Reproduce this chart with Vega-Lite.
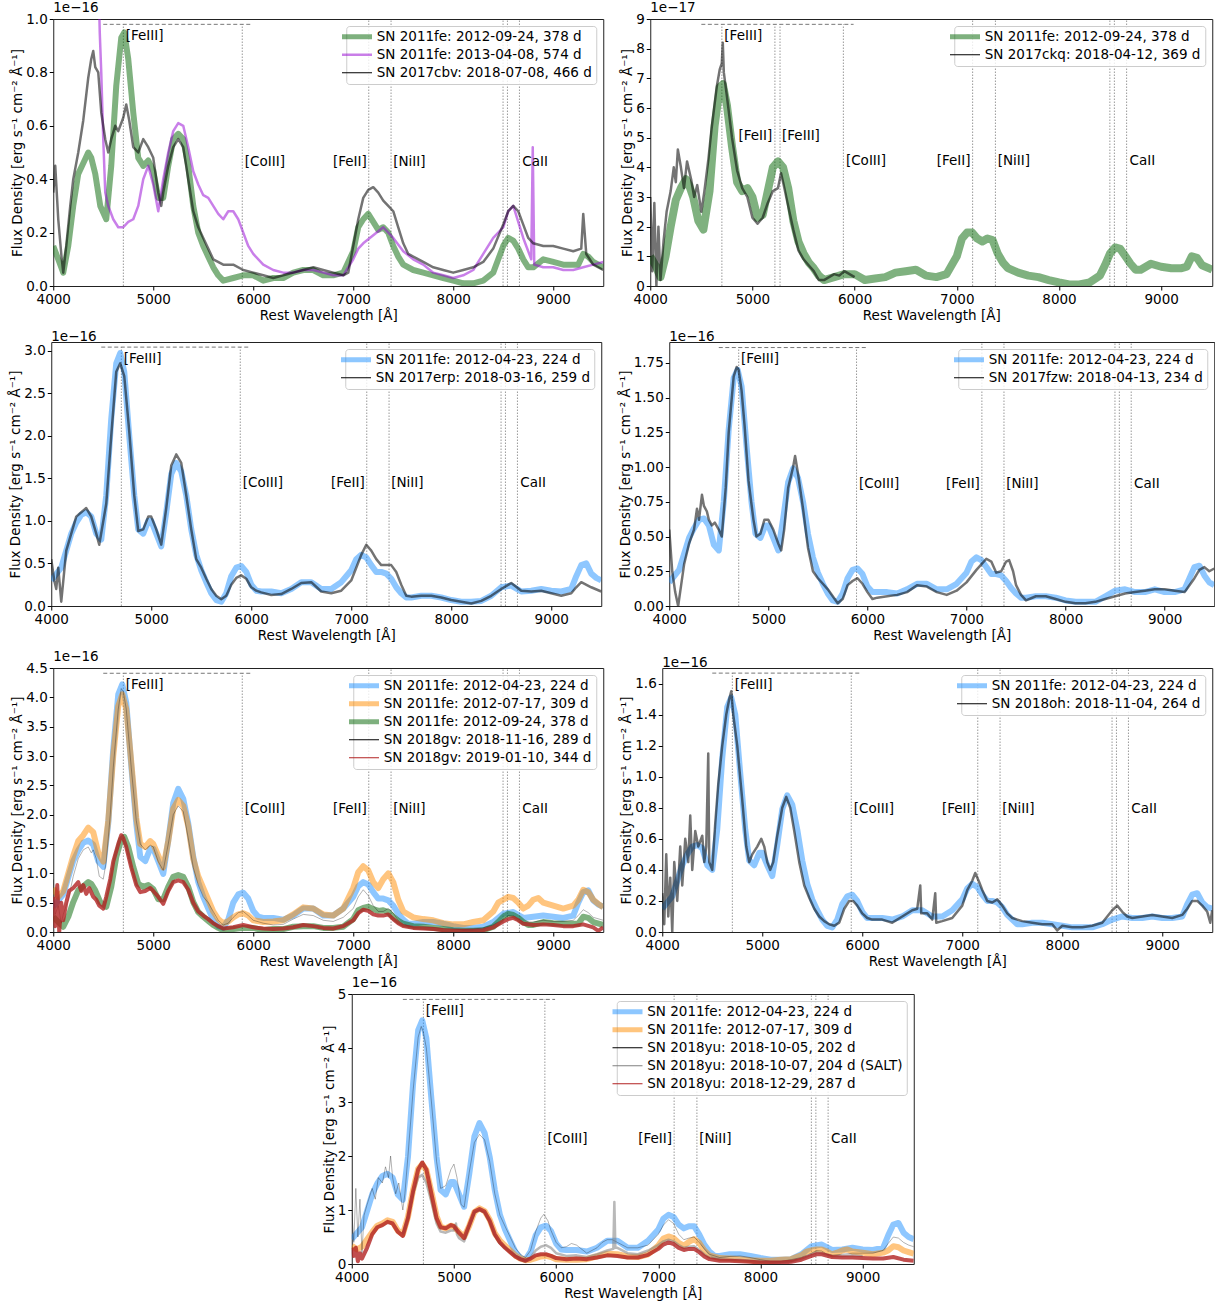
{
"$schema":"https://vega.github.io/schema/vega-lite/v6.json",
"background":"white",
"padding":{"left":8,"top":0,"right":0,"bottom":0},
"spacing":6,
"center":true,
"resolve":{"scale":{"color":"independent","strokeWidth":"independent","opacity":"independent"},"legend":{"color":"independent","strokeWidth":"independent","opacity":"independent"}},
"datasets":{
"names":[{"s":"B","n":"SN 2011fe: 2012-04-23, 224 d"},{"s":"O","n":"SN 2011fe: 2012-07-17, 309 d"},{"s":"G","n":"SN 2011fe: 2012-09-24, 378 d"},{"s":"V","n":"SN 2011fe: 2013-04-08, 574 d"},{"s":"cbv","n":"SN 2017cbv: 2018-07-08, 466 d"},{"s":"ckq","n":"SN 2017ckq: 2018-04-12, 369 d"},{"s":"erp","n":"SN 2017erp: 2018-03-16, 259 d"},{"s":"fzw","n":"SN 2017fzw: 2018-04-13, 234 d"},{"s":"gv1","n":"SN 2018gv: 2018-11-16, 289 d"},{"s":"gv2","n":"SN 2018gv: 2019-01-10, 344 d"},{"s":"oh","n":"SN 2018oh: 2018-11-04, 264 d"},{"s":"yu1","n":"SN 2018yu: 2018-10-05, 202 d"},{"s":"yu2","n":"SN 2018yu: 2018-10-07, 204 d (SALT)"},{"s":"yu3","n":"SN 2018yu: 2018-12-29, 287 d"}],
"p1":[
{"s":"G","w":4000,"f":0.15},{"s":"G","w":4050,"f":0.10},{"s":"G","w":4100,"f":0.05},{"s":"G","w":4150,"f":0.15},{"s":"G","w":4200,"f":0.30},{"s":"G","w":4250,"f":0.42},{"s":"G","w":4300,"f":0.46},{"s":"G","w":4350,"f":0.50},{"s":"G","w":4380,"f":0.48},{"s":"G","w":4420,"f":0.42},{"s":"G","w":4470,"f":0.30},{"s":"G","w":4530,"f":0.25},{"s":"G","w":4580,"f":0.45},{"s":"G","w":4630,"f":0.75},{"s":"G","w":4680,"f":0.93},{"s":"G","w":4710,"f":0.95},{"s":"G","w":4750,"f":0.85},{"s":"G","w":4800,"f":0.65},{"s":"G","w":4850,"f":0.48},{"s":"G","w":4900,"f":0.45},{"s":"G","w":4950,"f":0.47},{"s":"G","w":5000,"f":0.43},{"s":"G","w":5050,"f":0.33},{"s":"G","w":5100,"f":0.33},{"s":"G","w":5150,"f":0.45},{"s":"G","w":5200,"f":0.55},{"s":"G","w":5250,"f":0.57},{"s":"G","w":5300,"f":0.55},{"s":"G","w":5350,"f":0.45},{"s":"G","w":5400,"f":0.30},{"s":"G","w":5450,"f":0.20},{"s":"G","w":5500,"f":0.15},{"s":"G","w":5550,"f":0.11},{"s":"G","w":5600,"f":0.07},{"s":"G","w":5650,"f":0.04},{"s":"G","w":5700,"f":0.02},{"s":"G","w":5800,"f":0.03},{"s":"G","w":5900,"f":0.04},{"s":"G","w":6000,"f":0.04},{"s":"G","w":6100,"f":0.02},{"s":"G","w":6200,"f":0.03},{"s":"G","w":6300,"f":0.03},{"s":"G","w":6400,"f":0.05},{"s":"G","w":6500,"f":0.06},{"s":"G","w":6600,"f":0.06},{"s":"G","w":6700,"f":0.04},{"s":"G","w":6800,"f":0.04},{"s":"G","w":6900,"f":0.05},{"s":"G","w":7000,"f":0.13},{"s":"G","w":7050,"f":0.22},{"s":"G","w":7100,"f":0.25},{"s":"G","w":7150,"f":0.27},{"s":"G","w":7200,"f":0.24},{"s":"G","w":7250,"f":0.21},{"s":"G","w":7300,"f":0.22},{"s":"G","w":7350,"f":0.20},{"s":"G","w":7400,"f":0.15},{"s":"G","w":7450,"f":0.11},{"s":"G","w":7500,"f":0.08},{"s":"G","w":7600,"f":0.06},{"s":"G","w":7700,"f":0.05},{"s":"G","w":7800,"f":0.04},{"s":"G","w":7900,"f":0.03},{"s":"G","w":8000,"f":0.02},{"s":"G","w":8100,"f":0.01},{"s":"G","w":8200,"f":0.01},{"s":"G","w":8300,"f":0.02},{"s":"G","w":8400,"f":0.05},{"s":"G","w":8450,"f":0.10},{"s":"G","w":8500,"f":0.15},{"s":"G","w":8550,"f":0.18},{"s":"G","w":8600,"f":0.17},{"s":"G","w":8650,"f":0.14},{"s":"G","w":8700,"f":0.10},{"s":"G","w":8750,"f":0.07},{"s":"G","w":8800,"f":0.07},{"s":"G","w":8900,"f":0.10},{"s":"G","w":9000,"f":0.09},{"s":"G","w":9100,"f":0.08},{"s":"G","w":9200,"f":0.08},{"s":"G","w":9250,"f":0.08},{"s":"G","w":9300,"f":0.12},{"s":"G","w":9350,"f":0.11},{"s":"G","w":9400,"f":0.09},{"s":"G","w":9500,"f":0.07},
{"s":"V","w":4450,"f":1.2},{"s":"V","w":4465,"f":0.95},{"s":"V","w":4480,"f":0.8},{"s":"V","w":4500,"f":0.55},{"s":"V","w":4520,"f":0.35},{"s":"V","w":4550,"f":0.30},{"s":"V","w":4600,"f":0.25},{"s":"V","w":4650,"f":0.22},{"s":"V","w":4700,"f":0.22},{"s":"V","w":4750,"f":0.24},{"s":"V","w":4800,"f":0.25},{"s":"V","w":4850,"f":0.30},{"s":"V","w":4900,"f":0.40},{"s":"V","w":4950,"f":0.45},{"s":"V","w":5000,"f":0.38},{"s":"V","w":5050,"f":0.28},{"s":"V","w":5100,"f":0.40},{"s":"V","w":5150,"f":0.50},{"s":"V","w":5200,"f":0.58},{"s":"V","w":5250,"f":0.61},{"s":"V","w":5300,"f":0.60},{"s":"V","w":5350,"f":0.52},{"s":"V","w":5400,"f":0.43},{"s":"V","w":5450,"f":0.38},{"s":"V","w":5500,"f":0.34},{"s":"V","w":5550,"f":0.33},{"s":"V","w":5600,"f":0.30},{"s":"V","w":5650,"f":0.27},{"s":"V","w":5700,"f":0.25},{"s":"V","w":5750,"f":0.28},{"s":"V","w":5800,"f":0.28},{"s":"V","w":5850,"f":0.25},{"s":"V","w":5900,"f":0.20},{"s":"V","w":5950,"f":0.15},{"s":"V","w":6000,"f":0.12},{"s":"V","w":6100,"f":0.08},{"s":"V","w":6200,"f":0.06},{"s":"V","w":6300,"f":0.05},{"s":"V","w":6400,"f":0.05},{"s":"V","w":6500,"f":0.06},{"s":"V","w":6600,"f":0.06},{"s":"V","w":6700,"f":0.05},{"s":"V","w":6800,"f":0.04},{"s":"V","w":6900,"f":0.04},{"s":"V","w":7000,"f":0.10},{"s":"V","w":7050,"f":0.14},{"s":"V","w":7100,"f":0.16},{"s":"V","w":7200,"f":0.19},{"s":"V","w":7300,"f":0.22},{"s":"V","w":7400,"f":0.18},{"s":"V","w":7500,"f":0.13},{"s":"V","w":7600,"f":0.10},{"s":"V","w":7700,"f":0.08},{"s":"V","w":7800,"f":0.05},{"s":"V","w":7900,"f":0.04},{"s":"V","w":8000,"f":0.03},{"s":"V","w":8100,"f":0.04},{"s":"V","w":8200,"f":0.06},{"s":"V","w":8300,"f":0.12},{"s":"V","w":8400,"f":0.18},{"s":"V","w":8500,"f":0.22},{"s":"V","w":8550,"f":0.28},{"s":"V","w":8600,"f":0.30},{"s":"V","w":8650,"f":0.24},{"s":"V","w":8700,"f":0.18},{"s":"V","w":8780,"f":0.10},{"s":"V","w":8795,"f":0.52},{"s":"V","w":8810,"f":0.08},{"s":"V","w":8900,"f":0.07},{"s":"V","w":9000,"f":0.07},{"s":"V","w":9100,"f":0.06},{"s":"V","w":9200,"f":0.06},{"s":"V","w":9300,"f":0.07},{"s":"V","w":9400,"f":0.08},{"s":"V","w":9500,"f":0.09},
{"s":"cbv","w":4000,"f":0.35},{"s":"cbv","w":4020,"f":0.45},{"s":"cbv","w":4050,"f":0.25},{"s":"cbv","w":4080,"f":0.12},{"s":"cbv","w":4100,"f":0.05},{"s":"cbv","w":4130,"f":0.15},{"s":"cbv","w":4170,"f":0.30},{"s":"cbv","w":4200,"f":0.40},{"s":"cbv","w":4250,"f":0.50},{"s":"cbv","w":4300,"f":0.62},{"s":"cbv","w":4350,"f":0.78},{"s":"cbv","w":4380,"f":0.85},{"s":"cbv","w":4400,"f":0.88},{"s":"cbv","w":4420,"f":0.82},{"s":"cbv","w":4450,"f":0.80},{"s":"cbv","w":4480,"f":0.65},{"s":"cbv","w":4520,"f":0.55},{"s":"cbv","w":4550,"f":0.50},{"s":"cbv","w":4580,"f":0.55},{"s":"cbv","w":4620,"f":0.60},{"s":"cbv","w":4650,"f":0.58},{"s":"cbv","w":4700,"f":0.63},{"s":"cbv","w":4730,"f":0.68},{"s":"cbv","w":4760,"f":0.62},{"s":"cbv","w":4800,"f":0.52},{"s":"cbv","w":4850,"f":0.50},{"s":"cbv","w":4900,"f":0.55},{"s":"cbv","w":4950,"f":0.52},{"s":"cbv","w":5000,"f":0.48},{"s":"cbv","w":5050,"f":0.35},{"s":"cbv","w":5080,"f":0.30},{"s":"cbv","w":5100,"f":0.35},{"s":"cbv","w":5150,"f":0.45},{"s":"cbv","w":5200,"f":0.52},{"s":"cbv","w":5250,"f":0.55},{"s":"cbv","w":5300,"f":0.52},{"s":"cbv","w":5350,"f":0.40},{"s":"cbv","w":5400,"f":0.28},{"s":"cbv","w":5450,"f":0.22},{"s":"cbv","w":5500,"f":0.18},{"s":"cbv","w":5550,"f":0.14},{"s":"cbv","w":5600,"f":0.10},{"s":"cbv","w":5700,"f":0.08},{"s":"cbv","w":5800,"f":0.08},{"s":"cbv","w":5900,"f":0.06},{"s":"cbv","w":6000,"f":0.05},{"s":"cbv","w":6100,"f":0.04},{"s":"cbv","w":6200,"f":0.03},{"s":"cbv","w":6300,"f":0.04},{"s":"cbv","w":6400,"f":0.05},{"s":"cbv","w":6500,"f":0.06},{"s":"cbv","w":6600,"f":0.07},{"s":"cbv","w":6700,"f":0.06},{"s":"cbv","w":6800,"f":0.05},{"s":"cbv","w":6900,"f":0.04},{"s":"cbv","w":6950,"f":0.05},{"s":"cbv","w":7000,"f":0.15},{"s":"cbv","w":7050,"f":0.25},{"s":"cbv","w":7100,"f":0.33},{"s":"cbv","w":7150,"f":0.36},{"s":"cbv","w":7200,"f":0.37},{"s":"cbv","w":7250,"f":0.35},{"s":"cbv","w":7300,"f":0.32},{"s":"cbv","w":7350,"f":0.30},{"s":"cbv","w":7400,"f":0.28},{"s":"cbv","w":7450,"f":0.22},{"s":"cbv","w":7500,"f":0.16},{"s":"cbv","w":7550,"f":0.12},{"s":"cbv","w":7600,"f":0.11},{"s":"cbv","w":7700,"f":0.09},{"s":"cbv","w":7800,"f":0.07},{"s":"cbv","w":7900,"f":0.06},{"s":"cbv","w":8000,"f":0.05},{"s":"cbv","w":8100,"f":0.06},{"s":"cbv","w":8200,"f":0.07},{"s":"cbv","w":8300,"f":0.09},{"s":"cbv","w":8400,"f":0.14},{"s":"cbv","w":8500,"f":0.23},{"s":"cbv","w":8550,"f":0.28},{"s":"cbv","w":8600,"f":0.30},{"s":"cbv","w":8650,"f":0.28},{"s":"cbv","w":8700,"f":0.23},{"s":"cbv","w":8750,"f":0.18},{"s":"cbv","w":8800,"f":0.16},{"s":"cbv","w":8900,"f":0.15},{"s":"cbv","w":9000,"f":0.15},{"s":"cbv","w":9100,"f":0.14},{"s":"cbv","w":9200,"f":0.13},{"s":"cbv","w":9280,"f":0.14},{"s":"cbv","w":9300,"f":0.27},{"s":"cbv","w":9330,"f":0.12},{"s":"cbv","w":9400,"f":0.08},{"s":"cbv","w":9500,"f":0.06}],
"p2":[
{"s":"G","w":4000,"f":1.0},{"s":"G","w":4050,"f":0.7},{"s":"G","w":4100,"f":0.3},{"s":"G","w":4150,"f":1.0},{"s":"G","w":4200,"f":2.0},{"s":"G","w":4250,"f":2.9},{"s":"G","w":4300,"f":3.3},{"s":"G","w":4350,"f":3.6},{"s":"G","w":4380,"f":3.4},{"s":"G","w":4420,"f":3.0},{"s":"G","w":4470,"f":2.2},{"s":"G","w":4520,"f":1.9},{"s":"G","w":4580,"f":3.2},{"s":"G","w":4630,"f":5.4},{"s":"G","w":4680,"f":6.7},{"s":"G","w":4710,"f":6.8},{"s":"G","w":4750,"f":6.1},{"s":"G","w":4800,"f":4.7},{"s":"G","w":4850,"f":3.5},{"s":"G","w":4900,"f":3.2},{"s":"G","w":4950,"f":3.3},{"s":"G","w":5000,"f":3.0},{"s":"G","w":5050,"f":2.3},{"s":"G","w":5100,"f":2.4},{"s":"G","w":5150,"f":3.2},{"s":"G","w":5200,"f":4.0},{"s":"G","w":5250,"f":4.2},{"s":"G","w":5300,"f":4.0},{"s":"G","w":5350,"f":3.3},{"s":"G","w":5400,"f":2.2},{"s":"G","w":5450,"f":1.5},{"s":"G","w":5500,"f":1.1},{"s":"G","w":5550,"f":0.8},{"s":"G","w":5600,"f":0.6},{"s":"G","w":5650,"f":0.35},{"s":"G","w":5700,"f":0.2},{"s":"G","w":5800,"f":0.3},{"s":"G","w":5900,"f":0.4},{"s":"G","w":6000,"f":0.4},{"s":"G","w":6100,"f":0.2},{"s":"G","w":6200,"f":0.25},{"s":"G","w":6300,"f":0.3},{"s":"G","w":6400,"f":0.45},{"s":"G","w":6500,"f":0.5},{"s":"G","w":6600,"f":0.55},{"s":"G","w":6700,"f":0.35},{"s":"G","w":6800,"f":0.3},{"s":"G","w":6900,"f":0.4},{"s":"G","w":7000,"f":1.0},{"s":"G","w":7050,"f":1.6},{"s":"G","w":7100,"f":1.8},{"s":"G","w":7150,"f":1.8},{"s":"G","w":7200,"f":1.6},{"s":"G","w":7250,"f":1.5},{"s":"G","w":7300,"f":1.6},{"s":"G","w":7350,"f":1.55},{"s":"G","w":7400,"f":1.1},{"s":"G","w":7450,"f":0.8},{"s":"G","w":7500,"f":0.6},{"s":"G","w":7600,"f":0.45},{"s":"G","w":7700,"f":0.35},{"s":"G","w":7800,"f":0.3},{"s":"G","w":7900,"f":0.2},{"s":"G","w":8000,"f":0.12},{"s":"G","w":8100,"f":0.05},{"s":"G","w":8200,"f":0.05},{"s":"G","w":8300,"f":0.12},{"s":"G","w":8400,"f":0.35},{"s":"G","w":8450,"f":0.7},{"s":"G","w":8500,"f":1.1},{"s":"G","w":8550,"f":1.3},{"s":"G","w":8600,"f":1.25},{"s":"G","w":8650,"f":1.0},{"s":"G","w":8700,"f":0.75},{"s":"G","w":8750,"f":0.55},{"s":"G","w":8800,"f":0.55},{"s":"G","w":8900,"f":0.75},{"s":"G","w":9000,"f":0.65},{"s":"G","w":9100,"f":0.6},{"s":"G","w":9200,"f":0.6},{"s":"G","w":9250,"f":0.65},{"s":"G","w":9300,"f":1.0},{"s":"G","w":9350,"f":0.95},{"s":"G","w":9400,"f":0.7},{"s":"G","w":9500,"f":0.55},
{"s":"ckq","w":4000,"f":3.0},{"s":"ckq","w":4020,"f":0.5},{"s":"ckq","w":4040,"f":2.8},{"s":"ckq","w":4060,"f":0.0},{"s":"ckq","w":4080,"f":2.0},{"s":"ckq","w":4100,"f":0.2},{"s":"ckq","w":4130,"f":1.5},{"s":"ckq","w":4160,"f":2.5},{"s":"ckq","w":4200,"f":3.2},{"s":"ckq","w":4230,"f":4.0},{"s":"ckq","w":4250,"f":3.5},{"s":"ckq","w":4270,"f":4.6},{"s":"ckq","w":4300,"f":4.0},{"s":"ckq","w":4330,"f":3.3},{"s":"ckq","w":4360,"f":4.2},{"s":"ckq","w":4400,"f":3.6},{"s":"ckq","w":4430,"f":3.0},{"s":"ckq","w":4460,"f":3.4},{"s":"ckq","w":4500,"f":2.5},{"s":"ckq","w":4530,"f":3.2},{"s":"ckq","w":4570,"f":4.3},{"s":"ckq","w":4600,"f":5.3},{"s":"ckq","w":4650,"f":6.7},{"s":"ckq","w":4680,"f":7.3},{"s":"ckq","w":4700,"f":7.5},{"s":"ckq","w":4710,"f":8.2},{"s":"ckq","w":4720,"f":7.2},{"s":"ckq","w":4750,"f":6.4},{"s":"ckq","w":4800,"f":5.0},{"s":"ckq","w":4850,"f":3.9},{"s":"ckq","w":4900,"f":3.3},{"s":"ckq","w":4950,"f":3.0},{"s":"ckq","w":5000,"f":2.3},{"s":"ckq","w":5050,"f":2.1},{"s":"ckq","w":5100,"f":2.3},{"s":"ckq","w":5150,"f":2.8},{"s":"ckq","w":5200,"f":3.2},{"s":"ckq","w":5250,"f":3.3},{"s":"ckq","w":5280,"f":3.8},{"s":"ckq","w":5300,"f":3.5},{"s":"ckq","w":5350,"f":2.7},{"s":"ckq","w":5400,"f":1.9},{"s":"ckq","w":5450,"f":1.2},{"s":"ckq","w":5500,"f":0.9},{"s":"ckq","w":5550,"f":0.7},{"s":"ckq","w":5600,"f":0.5},{"s":"ckq","w":5650,"f":0.2},{"s":"ckq","w":5700,"f":0.2},{"s":"ckq","w":5750,"f":0.3},{"s":"ckq","w":5800,"f":0.4},{"s":"ckq","w":5850,"f":0.35},{"s":"ckq","w":5900,"f":0.5},{"s":"ckq","w":5950,"f":0.4},{"s":"ckq","w":6000,"f":0.3}],
"p3":[
{"s":"B","w":4000,"f":0.30},{"s":"B","w":4100,"f":0.45},{"s":"B","w":4200,"f":0.85},{"s":"B","w":4250,"f":0.98},{"s":"B","w":4300,"f":1.07},{"s":"B","w":4350,"f":1.10},{"s":"B","w":4400,"f":1.05},{"s":"B","w":4450,"f":0.85},{"s":"B","w":4500,"f":0.78},{"s":"B","w":4550,"f":1.30},{"s":"B","w":4600,"f":2.20},{"s":"B","w":4650,"f":2.85},{"s":"B","w":4690,"f":2.97},{"s":"B","w":4730,"f":2.75},{"s":"B","w":4780,"f":2.00},{"s":"B","w":4830,"f":1.30},{"s":"B","w":4870,"f":0.90},{"s":"B","w":4920,"f":0.85},{"s":"B","w":4970,"f":1.00},{"s":"B","w":5000,"f":1.00},{"s":"B","w":5050,"f":0.85},{"s":"B","w":5100,"f":0.70},{"s":"B","w":5150,"f":1.10},{"s":"B","w":5200,"f":1.55},{"s":"B","w":5250,"f":1.68},{"s":"B","w":5300,"f":1.58},{"s":"B","w":5350,"f":1.30},{"s":"B","w":5400,"f":0.90},{"s":"B","w":5450,"f":0.60},{"s":"B","w":5500,"f":0.42},{"s":"B","w":5550,"f":0.28},{"s":"B","w":5600,"f":0.15},{"s":"B","w":5650,"f":0.07},{"s":"B","w":5700,"f":0.05},{"s":"B","w":5750,"f":0.15},{"s":"B","w":5800,"f":0.35},{"s":"B","w":5850,"f":0.45},{"s":"B","w":5900,"f":0.47},{"s":"B","w":5950,"f":0.40},{"s":"B","w":6000,"f":0.25},{"s":"B","w":6050,"f":0.18},{"s":"B","w":6100,"f":0.17},{"s":"B","w":6200,"f":0.17},{"s":"B","w":6300,"f":0.15},{"s":"B","w":6400,"f":0.20},{"s":"B","w":6500,"f":0.28},{"s":"B","w":6600,"f":0.28},{"s":"B","w":6700,"f":0.20},{"s":"B","w":6800,"f":0.20},{"s":"B","w":6900,"f":0.28},{"s":"B","w":7000,"f":0.42},{"s":"B","w":7050,"f":0.55},{"s":"B","w":7100,"f":0.60},{"s":"B","w":7150,"f":0.57},{"s":"B","w":7200,"f":0.48},{"s":"B","w":7250,"f":0.40},{"s":"B","w":7300,"f":0.40},{"s":"B","w":7350,"f":0.38},{"s":"B","w":7400,"f":0.32},{"s":"B","w":7450,"f":0.22},{"s":"B","w":7500,"f":0.15},{"s":"B","w":7550,"f":0.10},{"s":"B","w":7600,"f":0.10},{"s":"B","w":7700,"f":0.12},{"s":"B","w":7800,"f":0.12},{"s":"B","w":7900,"f":0.10},{"s":"B","w":8000,"f":0.07},{"s":"B","w":8100,"f":0.05},{"s":"B","w":8200,"f":0.05},{"s":"B","w":8300,"f":0.06},{"s":"B","w":8400,"f":0.12},{"s":"B","w":8500,"f":0.22},{"s":"B","w":8600,"f":0.24},{"s":"B","w":8700,"f":0.17},{"s":"B","w":8800,"f":0.18},{"s":"B","w":8900,"f":0.20},{"s":"B","w":9000,"f":0.18},{"s":"B","w":9100,"f":0.17},{"s":"B","w":9200,"f":0.20},{"s":"B","w":9250,"f":0.35},{"s":"B","w":9300,"f":0.48},{"s":"B","w":9350,"f":0.50},{"s":"B","w":9400,"f":0.38},{"s":"B","w":9450,"f":0.33},{"s":"B","w":9500,"f":0.30},
{"s":"erp","w":4000,"f":0.55},{"s":"erp","w":4030,"f":0.30},{"s":"erp","w":4050,"f":0.20},{"s":"erp","w":4070,"f":0.45},{"s":"erp","w":4100,"f":0.05},{"s":"erp","w":4150,"f":0.65},{"s":"erp","w":4200,"f":0.85},{"s":"erp","w":4250,"f":1.05},{"s":"erp","w":4300,"f":1.10},{"s":"erp","w":4350,"f":1.15},{"s":"erp","w":4400,"f":1.05},{"s":"erp","w":4450,"f":0.85},{"s":"erp","w":4480,"f":0.72},{"s":"erp","w":4550,"f":1.20},{"s":"erp","w":4600,"f":2.00},{"s":"erp","w":4650,"f":2.75},{"s":"erp","w":4690,"f":2.85},{"s":"erp","w":4730,"f":2.70},{"s":"erp","w":4780,"f":2.05},{"s":"erp","w":4830,"f":1.30},{"s":"erp","w":4870,"f":0.88},{"s":"erp","w":4920,"f":0.90},{"s":"erp","w":4970,"f":1.05},{"s":"erp","w":5000,"f":1.05},{"s":"erp","w":5050,"f":0.90},{"s":"erp","w":5100,"f":0.72},{"s":"erp","w":5150,"f":1.15},{"s":"erp","w":5200,"f":1.65},{"s":"erp","w":5250,"f":1.78},{"s":"erp","w":5300,"f":1.68},{"s":"erp","w":5350,"f":1.30},{"s":"erp","w":5400,"f":0.90},{"s":"erp","w":5450,"f":0.55},{"s":"erp","w":5500,"f":0.45},{"s":"erp","w":5550,"f":0.32},{"s":"erp","w":5600,"f":0.20},{"s":"erp","w":5650,"f":0.12},{"s":"erp","w":5700,"f":0.08},{"s":"erp","w":5750,"f":0.12},{"s":"erp","w":5800,"f":0.25},{"s":"erp","w":5850,"f":0.33},{"s":"erp","w":5900,"f":0.36},{"s":"erp","w":5950,"f":0.32},{"s":"erp","w":6000,"f":0.22},{"s":"erp","w":6050,"f":0.18},{"s":"erp","w":6100,"f":0.16},{"s":"erp","w":6200,"f":0.13},{"s":"erp","w":6300,"f":0.14},{"s":"erp","w":6400,"f":0.20},{"s":"erp","w":6500,"f":0.27},{"s":"erp","w":6600,"f":0.28},{"s":"erp","w":6700,"f":0.17},{"s":"erp","w":6800,"f":0.15},{"s":"erp","w":6900,"f":0.18},{"s":"erp","w":7000,"f":0.30},{"s":"erp","w":7050,"f":0.45},{"s":"erp","w":7100,"f":0.60},{"s":"erp","w":7150,"f":0.72},{"s":"erp","w":7200,"f":0.65},{"s":"erp","w":7250,"f":0.55},{"s":"erp","w":7300,"f":0.48},{"s":"erp","w":7350,"f":0.48},{"s":"erp","w":7400,"f":0.48},{"s":"erp","w":7450,"f":0.40},{"s":"erp","w":7500,"f":0.25},{"s":"erp","w":7550,"f":0.12},{"s":"erp","w":7600,"f":0.11},{"s":"erp","w":7700,"f":0.12},{"s":"erp","w":7800,"f":0.12},{"s":"erp","w":7900,"f":0.10},{"s":"erp","w":8000,"f":0.07},{"s":"erp","w":8100,"f":0.05},{"s":"erp","w":8200,"f":0.03},{"s":"erp","w":8300,"f":0.06},{"s":"erp","w":8400,"f":0.12},{"s":"erp","w":8500,"f":0.20},{"s":"erp","w":8600,"f":0.27},{"s":"erp","w":8700,"f":0.18},{"s":"erp","w":8800,"f":0.17},{"s":"erp","w":8900,"f":0.18},{"s":"erp","w":9000,"f":0.15},{"s":"erp","w":9100,"f":0.12},{"s":"erp","w":9200,"f":0.15},{"s":"erp","w":9250,"f":0.22},{"s":"erp","w":9300,"f":0.28},{"s":"erp","w":9400,"f":0.22},{"s":"erp","w":9500,"f":0.17}],
"p4":[
{"s":"B","w":4000,"f":0.17},{"s":"B","w":4100,"f":0.26},{"s":"B","w":4200,"f":0.49},{"s":"B","w":4250,"f":0.56},{"s":"B","w":4300,"f":0.62},{"s":"B","w":4350,"f":0.63},{"s":"B","w":4400,"f":0.58},{"s":"B","w":4450,"f":0.44},{"s":"B","w":4500,"f":0.40},{"s":"B","w":4550,"f":0.75},{"s":"B","w":4600,"f":1.27},{"s":"B","w":4650,"f":1.64},{"s":"B","w":4690,"f":1.70},{"s":"B","w":4730,"f":1.58},{"s":"B","w":4780,"f":1.15},{"s":"B","w":4830,"f":0.75},{"s":"B","w":4870,"f":0.52},{"s":"B","w":4920,"f":0.49},{"s":"B","w":4970,"f":0.58},{"s":"B","w":5000,"f":0.58},{"s":"B","w":5050,"f":0.49},{"s":"B","w":5100,"f":0.40},{"s":"B","w":5150,"f":0.63},{"s":"B","w":5200,"f":0.89},{"s":"B","w":5250,"f":0.99},{"s":"B","w":5300,"f":0.92},{"s":"B","w":5350,"f":0.75},{"s":"B","w":5400,"f":0.52},{"s":"B","w":5450,"f":0.35},{"s":"B","w":5500,"f":0.24},{"s":"B","w":5550,"f":0.16},{"s":"B","w":5600,"f":0.09},{"s":"B","w":5650,"f":0.04},{"s":"B","w":5700,"f":0.03},{"s":"B","w":5750,"f":0.09},{"s":"B","w":5800,"f":0.20},{"s":"B","w":5850,"f":0.26},{"s":"B","w":5900,"f":0.27},{"s":"B","w":5950,"f":0.23},{"s":"B","w":6000,"f":0.14},{"s":"B","w":6050,"f":0.10},{"s":"B","w":6100,"f":0.10},{"s":"B","w":6200,"f":0.10},{"s":"B","w":6300,"f":0.09},{"s":"B","w":6400,"f":0.12},{"s":"B","w":6500,"f":0.16},{"s":"B","w":6600,"f":0.16},{"s":"B","w":6700,"f":0.12},{"s":"B","w":6800,"f":0.12},{"s":"B","w":6900,"f":0.16},{"s":"B","w":7000,"f":0.24},{"s":"B","w":7050,"f":0.32},{"s":"B","w":7100,"f":0.35},{"s":"B","w":7150,"f":0.33},{"s":"B","w":7200,"f":0.28},{"s":"B","w":7250,"f":0.23},{"s":"B","w":7300,"f":0.23},{"s":"B","w":7350,"f":0.22},{"s":"B","w":7400,"f":0.18},{"s":"B","w":7450,"f":0.13},{"s":"B","w":7500,"f":0.09},{"s":"B","w":7550,"f":0.06},{"s":"B","w":7600,"f":0.06},{"s":"B","w":7700,"f":0.07},{"s":"B","w":7800,"f":0.07},{"s":"B","w":7900,"f":0.06},{"s":"B","w":8000,"f":0.04},{"s":"B","w":8100,"f":0.03},{"s":"B","w":8200,"f":0.03},{"s":"B","w":8300,"f":0.03},{"s":"B","w":8400,"f":0.07},{"s":"B","w":8500,"f":0.11},{"s":"B","w":8600,"f":0.12},{"s":"B","w":8700,"f":0.10},{"s":"B","w":8800,"f":0.10},{"s":"B","w":8900,"f":0.12},{"s":"B","w":9000,"f":0.10},{"s":"B","w":9100,"f":0.10},{"s":"B","w":9200,"f":0.12},{"s":"B","w":9250,"f":0.20},{"s":"B","w":9300,"f":0.28},{"s":"B","w":9350,"f":0.29},{"s":"B","w":9400,"f":0.22},{"s":"B","w":9450,"f":0.17},{"s":"B","w":9500,"f":0.15},
{"s":"fzw","w":4000,"f":0.55},{"s":"fzw","w":4030,"f":0.25},{"s":"fzw","w":4060,"f":0.10},{"s":"fzw","w":4090,"f":0.0},{"s":"fzw","w":4120,"f":0.15},{"s":"fzw","w":4150,"f":0.30},{"s":"fzw","w":4200,"f":0.45},{"s":"fzw","w":4250,"f":0.55},{"s":"fzw","w":4280,"f":0.70},{"s":"fzw","w":4300,"f":0.62},{"s":"fzw","w":4330,"f":0.80},{"s":"fzw","w":4350,"f":0.72},{"s":"fzw","w":4380,"f":0.68},{"s":"fzw","w":4400,"f":0.62},{"s":"fzw","w":4430,"f":0.58},{"s":"fzw","w":4460,"f":0.60},{"s":"fzw","w":4500,"f":0.55},{"s":"fzw","w":4530,"f":0.50},{"s":"fzw","w":4570,"f":0.85},{"s":"fzw","w":4600,"f":1.25},{"s":"fzw","w":4650,"f":1.65},{"s":"fzw","w":4680,"f":1.72},{"s":"fzw","w":4700,"f":1.70},{"s":"fzw","w":4730,"f":1.55},{"s":"fzw","w":4760,"f":1.30},{"s":"fzw","w":4800,"f":0.90},{"s":"fzw","w":4850,"f":0.62},{"s":"fzw","w":4880,"f":0.50},{"s":"fzw","w":4920,"f":0.52},{"s":"fzw","w":4960,"f":0.62},{"s":"fzw","w":5000,"f":0.62},{"s":"fzw","w":5050,"f":0.55},{"s":"fzw","w":5100,"f":0.45},{"s":"fzw","w":5130,"f":0.40},{"s":"fzw","w":5160,"f":0.55},{"s":"fzw","w":5200,"f":0.85},{"s":"fzw","w":5250,"f":1.00},{"s":"fzw","w":5270,"f":1.08},{"s":"fzw","w":5300,"f":0.95},{"s":"fzw","w":5350,"f":0.70},{"s":"fzw","w":5400,"f":0.42},{"s":"fzw","w":5450,"f":0.25},{"s":"fzw","w":5500,"f":0.20},{"s":"fzw","w":5550,"f":0.16},{"s":"fzw","w":5600,"f":0.12},{"s":"fzw","w":5650,"f":0.07},{"s":"fzw","w":5700,"f":0.02},{"s":"fzw","w":5750,"f":0.05},{"s":"fzw","w":5800,"f":0.15},{"s":"fzw","w":5850,"f":0.18},{"s":"fzw","w":5900,"f":0.20},{"s":"fzw","w":5950,"f":0.16},{"s":"fzw","w":6000,"f":0.10},{"s":"fzw","w":6050,"f":0.05},{"s":"fzw","w":6100,"f":0.06},{"s":"fzw","w":6200,"f":0.07},{"s":"fzw","w":6300,"f":0.08},{"s":"fzw","w":6400,"f":0.10},{"s":"fzw","w":6500,"f":0.15},{"s":"fzw","w":6600,"f":0.14},{"s":"fzw","w":6700,"f":0.10},{"s":"fzw","w":6800,"f":0.08},{"s":"fzw","w":6900,"f":0.11},{"s":"fzw","w":7000,"f":0.17},{"s":"fzw","w":7100,"f":0.26},{"s":"fzw","w":7150,"f":0.30},{"s":"fzw","w":7200,"f":0.34},{"s":"fzw","w":7250,"f":0.32},{"s":"fzw","w":7300,"f":0.24},{"s":"fzw","w":7350,"f":0.25},{"s":"fzw","w":7400,"f":0.32},{"s":"fzw","w":7430,"f":0.33},{"s":"fzw","w":7470,"f":0.25},{"s":"fzw","w":7500,"f":0.15},{"s":"fzw","w":7550,"f":0.08},{"s":"fzw","w":7600,"f":0.04},{"s":"fzw","w":7700,"f":0.07},{"s":"fzw","w":7800,"f":0.07},{"s":"fzw","w":7900,"f":0.05},{"s":"fzw","w":8000,"f":0.03},{"s":"fzw","w":8100,"f":0.02},{"s":"fzw","w":8200,"f":0.02},{"s":"fzw","w":8300,"f":0.03},{"s":"fzw","w":8400,"f":0.05},{"s":"fzw","w":8500,"f":0.07},{"s":"fzw","w":8600,"f":0.09},{"s":"fzw","w":8700,"f":0.10},{"s":"fzw","w":8800,"f":0.11},{"s":"fzw","w":8900,"f":0.12},{"s":"fzw","w":9000,"f":0.12},{"s":"fzw","w":9100,"f":0.11},{"s":"fzw","w":9200,"f":0.10},{"s":"fzw","w":9250,"f":0.15},{"s":"fzw","w":9300,"f":0.20},{"s":"fzw","w":9350,"f":0.26},{"s":"fzw","w":9400,"f":0.28},{"s":"fzw","w":9450,"f":0.25},{"s":"fzw","w":9500,"f":0.27}],
"p5":[
{"s":"B","w":4000,"f":0.43},{"s":"B","w":4100,"f":0.64},{"s":"B","w":4200,"f":1.21},{"s":"B","w":4250,"f":1.39},{"s":"B","w":4300,"f":1.52},{"s":"B","w":4350,"f":1.56},{"s":"B","w":4400,"f":1.49},{"s":"B","w":4450,"f":1.21},{"s":"B","w":4500,"f":1.11},{"s":"B","w":4550,"f":1.85},{"s":"B","w":4600,"f":3.12},{"s":"B","w":4650,"f":4.05},{"s":"B","w":4690,"f":4.22},{"s":"B","w":4730,"f":3.91},{"s":"B","w":4780,"f":2.84},{"s":"B","w":4830,"f":1.85},{"s":"B","w":4870,"f":1.28},{"s":"B","w":4920,"f":1.21},{"s":"B","w":4970,"f":1.42},{"s":"B","w":5000,"f":1.42},{"s":"B","w":5050,"f":1.21},{"s":"B","w":5100,"f":0.99},{"s":"B","w":5150,"f":1.56},{"s":"B","w":5200,"f":2.20},{"s":"B","w":5250,"f":2.44},{"s":"B","w":5300,"f":2.27},{"s":"B","w":5350,"f":1.85},{"s":"B","w":5400,"f":1.28},{"s":"B","w":5450,"f":0.85},{"s":"B","w":5500,"f":0.60},{"s":"B","w":5550,"f":0.40},{"s":"B","w":5600,"f":0.21},{"s":"B","w":5650,"f":0.10},{"s":"B","w":5700,"f":0.07},{"s":"B","w":5750,"f":0.21},{"s":"B","w":5800,"f":0.50},{"s":"B","w":5850,"f":0.64},{"s":"B","w":5900,"f":0.67},{"s":"B","w":5950,"f":0.57},{"s":"B","w":6000,"f":0.36},{"s":"B","w":6050,"f":0.26},{"s":"B","w":6100,"f":0.24},{"s":"B","w":6200,"f":0.24},{"s":"B","w":6300,"f":0.21},{"s":"B","w":6400,"f":0.28},{"s":"B","w":6500,"f":0.40},{"s":"B","w":6600,"f":0.40},{"s":"B","w":6700,"f":0.28},{"s":"B","w":6800,"f":0.28},{"s":"B","w":6900,"f":0.40},{"s":"B","w":7000,"f":0.60},{"s":"B","w":7050,"f":0.78},{"s":"B","w":7100,"f":0.85},{"s":"B","w":7150,"f":0.81},{"s":"B","w":7200,"f":0.68},{"s":"B","w":7250,"f":0.57},{"s":"B","w":7300,"f":0.57},{"s":"B","w":7350,"f":0.54},{"s":"B","w":7400,"f":0.45},{"s":"B","w":7450,"f":0.31},{"s":"B","w":7500,"f":0.21},{"s":"B","w":7550,"f":0.14},{"s":"B","w":7600,"f":0.14},{"s":"B","w":7700,"f":0.17},{"s":"B","w":7800,"f":0.17},{"s":"B","w":7900,"f":0.14},{"s":"B","w":8000,"f":0.10},{"s":"B","w":8100,"f":0.07},{"s":"B","w":8200,"f":0.07},{"s":"B","w":8300,"f":0.09},{"s":"B","w":8400,"f":0.17},{"s":"B","w":8500,"f":0.31},{"s":"B","w":8600,"f":0.34},{"s":"B","w":8700,"f":0.24},{"s":"B","w":8800,"f":0.26},{"s":"B","w":8900,"f":0.28},{"s":"B","w":9000,"f":0.26},{"s":"B","w":9100,"f":0.24},{"s":"B","w":9200,"f":0.28},{"s":"B","w":9250,"f":0.50},{"s":"B","w":9300,"f":0.68},{"s":"B","w":9350,"f":0.71},{"s":"B","w":9400,"f":0.54},{"s":"B","w":9450,"f":0.47},{"s":"B","w":9500,"f":0.43},
{"s":"O","w":4000,"f":0.75},{"s":"O","w":4050,"f":0.60},{"s":"O","w":4100,"f":0.70},{"s":"O","w":4200,"f":1.30},{"s":"O","w":4250,"f":1.55},{"s":"O","w":4300,"f":1.65},{"s":"O","w":4350,"f":1.78},{"s":"O","w":4400,"f":1.70},{"s":"O","w":4450,"f":1.35},{"s":"O","w":4500,"f":1.20},{"s":"O","w":4550,"f":1.90},{"s":"O","w":4600,"f":3.00},{"s":"O","w":4650,"f":3.85},{"s":"O","w":4690,"f":4.05},{"s":"O","w":4730,"f":3.80},{"s":"O","w":4780,"f":2.90},{"s":"O","w":4830,"f":1.95},{"s":"O","w":4870,"f":1.50},{"s":"O","w":4920,"f":1.45},{"s":"O","w":4970,"f":1.55},{"s":"O","w":5000,"f":1.50},{"s":"O","w":5050,"f":1.30},{"s":"O","w":5100,"f":1.10},{"s":"O","w":5150,"f":1.55},{"s":"O","w":5200,"f":2.10},{"s":"O","w":5250,"f":2.25},{"s":"O","w":5300,"f":2.15},{"s":"O","w":5350,"f":1.80},{"s":"O","w":5400,"f":1.25},{"s":"O","w":5450,"f":0.95},{"s":"O","w":5500,"f":0.75},{"s":"O","w":5550,"f":0.55},{"s":"O","w":5600,"f":0.35},{"s":"O","w":5650,"f":0.22},{"s":"O","w":5700,"f":0.15},{"s":"O","w":5750,"f":0.18},{"s":"O","w":5800,"f":0.25},{"s":"O","w":5850,"f":0.30},{"s":"O","w":5900,"f":0.32},{"s":"O","w":5950,"f":0.28},{"s":"O","w":6000,"f":0.20},{"s":"O","w":6100,"f":0.17},{"s":"O","w":6200,"f":0.18},{"s":"O","w":6300,"f":0.20},{"s":"O","w":6400,"f":0.30},{"s":"O","w":6500,"f":0.42},{"s":"O","w":6600,"f":0.40},{"s":"O","w":6700,"f":0.30},{"s":"O","w":6800,"f":0.28},{"s":"O","w":6900,"f":0.40},{"s":"O","w":7000,"f":0.75},{"s":"O","w":7050,"f":1.02},{"s":"O","w":7100,"f":1.12},{"s":"O","w":7150,"f":1.05},{"s":"O","w":7200,"f":0.85},{"s":"O","w":7250,"f":0.75},{"s":"O","w":7300,"f":0.90},{"s":"O","w":7350,"f":1.00},{"s":"O","w":7400,"f":0.85},{"s":"O","w":7450,"f":0.55},{"s":"O","w":7500,"f":0.35},{"s":"O","w":7600,"f":0.25},{"s":"O","w":7700,"f":0.22},{"s":"O","w":7800,"f":0.20},{"s":"O","w":7900,"f":0.15},{"s":"O","w":8000,"f":0.13},{"s":"O","w":8100,"f":0.13},{"s":"O","w":8200,"f":0.17},{"s":"O","w":8300,"f":0.20},{"s":"O","w":8400,"f":0.35},{"s":"O","w":8450,"f":0.50},{"s":"O","w":8500,"f":0.55},{"s":"O","w":8550,"f":0.60},{"s":"O","w":8600,"f":0.58},{"s":"O","w":8650,"f":0.50},{"s":"O","w":8700,"f":0.40},{"s":"O","w":8750,"f":0.45},{"s":"O","w":8800,"f":0.55},{"s":"O","w":8850,"f":0.58},{"s":"O","w":8900,"f":0.50},{"s":"O","w":9000,"f":0.45},{"s":"O","w":9100,"f":0.40},{"s":"O","w":9200,"f":0.45},{"s":"O","w":9250,"f":0.55},{"s":"O","w":9300,"f":0.72},{"s":"O","w":9350,"f":0.68},{"s":"O","w":9400,"f":0.55},{"s":"O","w":9450,"f":0.48},{"s":"O","w":9500,"f":0.42},
{"s":"G","w":4000,"f":0.26},{"s":"G","w":4050,"f":0.17},{"s":"G","w":4100,"f":0.09},{"s":"G","w":4150,"f":0.26},{"s":"G","w":4200,"f":0.51},{"s":"G","w":4250,"f":0.71},{"s":"G","w":4300,"f":0.78},{"s":"G","w":4350,"f":0.85},{"s":"G","w":4380,"f":0.82},{"s":"G","w":4420,"f":0.71},{"s":"G","w":4470,"f":0.51},{"s":"G","w":4530,"f":0.43},{"s":"G","w":4580,"f":0.77},{"s":"G","w":4630,"f":1.28},{"s":"G","w":4680,"f":1.58},{"s":"G","w":4710,"f":1.62},{"s":"G","w":4750,"f":1.45},{"s":"G","w":4800,"f":1.11},{"s":"G","w":4850,"f":0.82},{"s":"G","w":4900,"f":0.77},{"s":"G","w":4950,"f":0.80},{"s":"G","w":5000,"f":0.73},{"s":"G","w":5050,"f":0.56},{"s":"G","w":5100,"f":0.56},{"s":"G","w":5150,"f":0.77},{"s":"G","w":5200,"f":0.94},{"s":"G","w":5250,"f":0.97},{"s":"G","w":5300,"f":0.94},{"s":"G","w":5350,"f":0.77},{"s":"G","w":5400,"f":0.51},{"s":"G","w":5450,"f":0.34},{"s":"G","w":5500,"f":0.26},{"s":"G","w":5550,"f":0.19},{"s":"G","w":5600,"f":0.12},{"s":"G","w":5650,"f":0.07},{"s":"G","w":5700,"f":0.03},{"s":"G","w":5800,"f":0.05},{"s":"G","w":5900,"f":0.07},{"s":"G","w":6000,"f":0.07},{"s":"G","w":6100,"f":0.03},{"s":"G","w":6200,"f":0.05},{"s":"G","w":6300,"f":0.05},{"s":"G","w":6400,"f":0.09},{"s":"G","w":6500,"f":0.10},{"s":"G","w":6600,"f":0.10},{"s":"G","w":6700,"f":0.07},{"s":"G","w":6800,"f":0.07},{"s":"G","w":6900,"f":0.09},{"s":"G","w":7000,"f":0.22},{"s":"G","w":7050,"f":0.37},{"s":"G","w":7100,"f":0.41},{"s":"G","w":7150,"f":0.43},{"s":"G","w":7200,"f":0.39},{"s":"G","w":7250,"f":0.36},{"s":"G","w":7300,"f":0.37},{"s":"G","w":7350,"f":0.34},{"s":"G","w":7400,"f":0.26},{"s":"G","w":7450,"f":0.19},{"s":"G","w":7500,"f":0.14},{"s":"G","w":7600,"f":0.10},{"s":"G","w":7700,"f":0.09},{"s":"G","w":7800,"f":0.07},{"s":"G","w":7900,"f":0.05},{"s":"G","w":8000,"f":0.03},{"s":"G","w":8100,"f":0.02},{"s":"G","w":8200,"f":0.02},{"s":"G","w":8300,"f":0.03},{"s":"G","w":8400,"f":0.09},{"s":"G","w":8450,"f":0.17},{"s":"G","w":8500,"f":0.26},{"s":"G","w":8550,"f":0.31},{"s":"G","w":8600,"f":0.29},{"s":"G","w":8650,"f":0.24},{"s":"G","w":8700,"f":0.17},{"s":"G","w":8750,"f":0.12},{"s":"G","w":8800,"f":0.12},{"s":"G","w":8900,"f":0.17},{"s":"G","w":9000,"f":0.15},{"s":"G","w":9100,"f":0.14},{"s":"G","w":9200,"f":0.14},{"s":"G","w":9250,"f":0.14},{"s":"G","w":9300,"f":0.26},{"s":"G","w":9350,"f":0.24},{"s":"G","w":9400,"f":0.17},{"s":"G","w":9500,"f":0.12},
{"s":"gv1","w":4000,"f":0.9},{"s":"gv1","w":4020,"f":0.3},{"s":"gv1","w":4050,"f":0.45},{"s":"gv1","w":4080,"f":0.15},{"s":"gv1","w":4100,"f":0.3},{"s":"gv1","w":4150,"f":0.55},{"s":"gv1","w":4200,"f":0.95},{"s":"gv1","w":4250,"f":1.25},{"s":"gv1","w":4300,"f":1.40},{"s":"gv1","w":4350,"f":1.45},{"s":"gv1","w":4380,"f":1.35},{"s":"gv1","w":4400,"f":1.40},{"s":"gv1","w":4430,"f":1.25},{"s":"gv1","w":4460,"f":0.95},{"s":"gv1","w":4500,"f":0.90},{"s":"gv1","w":4530,"f":1.20},{"s":"gv1","w":4570,"f":2.00},{"s":"gv1","w":4600,"f":2.80},{"s":"gv1","w":4650,"f":3.80},{"s":"gv1","w":4680,"f":4.15},{"s":"gv1","w":4700,"f":4.10},{"s":"gv1","w":4730,"f":3.80},{"s":"gv1","w":4780,"f":2.80},{"s":"gv1","w":4830,"f":1.90},{"s":"gv1","w":4870,"f":1.50},{"s":"gv1","w":4920,"f":1.40},{"s":"gv1","w":4970,"f":1.48},{"s":"gv1","w":5000,"f":1.45},{"s":"gv1","w":5050,"f":1.20},{"s":"gv1","w":5100,"f":1.05},{"s":"gv1","w":5150,"f":1.50},{"s":"gv1","w":5200,"f":2.00},{"s":"gv1","w":5250,"f":2.15},{"s":"gv1","w":5300,"f":2.05},{"s":"gv1","w":5350,"f":1.60},{"s":"gv1","w":5400,"f":1.10},{"s":"gv1","w":5450,"f":0.80},{"s":"gv1","w":5500,"f":0.60},{"s":"gv1","w":5550,"f":0.50},{"s":"gv1","w":5600,"f":0.35},{"s":"gv1","w":5650,"f":0.20},{"s":"gv1","w":5700,"f":0.12},{"s":"gv1","w":5750,"f":0.15},{"s":"gv1","w":5800,"f":0.25},{"s":"gv1","w":5850,"f":0.33},{"s":"gv1","w":5900,"f":0.35},{"s":"gv1","w":5950,"f":0.28},{"s":"gv1","w":6000,"f":0.20},{"s":"gv1","w":6100,"f":0.15},{"s":"gv1","w":6200,"f":0.12},{"s":"gv1","w":6300,"f":0.13},{"s":"gv1","w":6400,"f":0.22},{"s":"gv1","w":6500,"f":0.30},{"s":"gv1","w":6600,"f":0.28},{"s":"gv1","w":6700,"f":0.20},{"s":"gv1","w":6800,"f":0.18},{"s":"gv1","w":6900,"f":0.25},{"s":"gv1","w":7000,"f":0.40},{"s":"gv1","w":7050,"f":0.60},{"s":"gv1","w":7100,"f":0.72},{"s":"gv1","w":7150,"f":0.62},{"s":"gv1","w":7200,"f":0.45},{"s":"gv1","w":7250,"f":0.35},{"s":"gv1","w":7300,"f":0.35},{"s":"gv1","w":7350,"f":0.40},{"s":"gv1","w":7400,"f":0.32},{"s":"gv1","w":7450,"f":0.20},{"s":"gv1","w":7500,"f":0.13},{"s":"gv1","w":7600,"f":0.08},{"s":"gv1","w":7700,"f":0.09},{"s":"gv1","w":7800,"f":0.08},{"s":"gv1","w":7900,"f":0.06},{"s":"gv1","w":8000,"f":0.05},{"s":"gv1","w":8100,"f":0.04},{"s":"gv1","w":8200,"f":0.05},{"s":"gv1","w":8300,"f":0.07},{"s":"gv1","w":8400,"f":0.12},{"s":"gv1","w":8500,"f":0.22},{"s":"gv1","w":8550,"f":0.28},{"s":"gv1","w":8600,"f":0.28},{"s":"gv1","w":8650,"f":0.22},{"s":"gv1","w":8700,"f":0.17},{"s":"gv1","w":8800,"f":0.17},{"s":"gv1","w":8900,"f":0.20},{"s":"gv1","w":9000,"f":0.18},{"s":"gv1","w":9100,"f":0.18},{"s":"gv1","w":9200,"f":0.20},{"s":"gv1","w":9250,"f":0.28},{"s":"gv1","w":9300,"f":0.38},{"s":"gv1","w":9350,"f":0.33},{"s":"gv1","w":9400,"f":0.25},{"s":"gv1","w":9500,"f":0.20},
{"s":"gv2","w":4000,"f":0.6},{"s":"gv2","w":4020,"f":0.1},{"s":"gv2","w":4040,"f":0.8},{"s":"gv2","w":4060,"f":0.0},{"s":"gv2","w":4080,"f":0.5},{"s":"gv2","w":4100,"f":0.2},{"s":"gv2","w":4130,"f":0.5},{"s":"gv2","w":4160,"f":0.7},{"s":"gv2","w":4200,"f":0.75},{"s":"gv2","w":4250,"f":0.85},{"s":"gv2","w":4280,"f":0.70},{"s":"gv2","w":4300,"f":0.80},{"s":"gv2","w":4330,"f":0.65},{"s":"gv2","w":4360,"f":0.75},{"s":"gv2","w":4400,"f":0.60},{"s":"gv2","w":4430,"f":0.55},{"s":"gv2","w":4460,"f":0.45},{"s":"gv2","w":4500,"f":0.40},{"s":"gv2","w":4530,"f":0.60},{"s":"gv2","w":4570,"f":0.90},{"s":"gv2","w":4600,"f":1.20},{"s":"gv2","w":4650,"f":1.50},{"s":"gv2","w":4680,"f":1.65},{"s":"gv2","w":4700,"f":1.60},{"s":"gv2","w":4730,"f":1.45},{"s":"gv2","w":4780,"f":1.10},{"s":"gv2","w":4830,"f":0.80},{"s":"gv2","w":4870,"f":0.68},{"s":"gv2","w":4920,"f":0.70},{"s":"gv2","w":4970,"f":0.75},{"s":"gv2","w":5000,"f":0.70},{"s":"gv2","w":5050,"f":0.60},{"s":"gv2","w":5100,"f":0.48},{"s":"gv2","w":5150,"f":0.70},{"s":"gv2","w":5200,"f":0.85},{"s":"gv2","w":5250,"f":0.88},{"s":"gv2","w":5300,"f":0.85},{"s":"gv2","w":5350,"f":0.72},{"s":"gv2","w":5400,"f":0.50},{"s":"gv2","w":5450,"f":0.35},{"s":"gv2","w":5500,"f":0.28},{"s":"gv2","w":5550,"f":0.22},{"s":"gv2","w":5600,"f":0.15},{"s":"gv2","w":5650,"f":0.10},{"s":"gv2","w":5700,"f":0.06},{"s":"gv2","w":5800,"f":0.08},{"s":"gv2","w":5900,"f":0.12},{"s":"gv2","w":6000,"f":0.08},{"s":"gv2","w":6100,"f":0.06},{"s":"gv2","w":6200,"f":0.05},{"s":"gv2","w":6300,"f":0.06},{"s":"gv2","w":6400,"f":0.08},{"s":"gv2","w":6500,"f":0.12},{"s":"gv2","w":6600,"f":0.10},{"s":"gv2","w":6700,"f":0.07},{"s":"gv2","w":6800,"f":0.06},{"s":"gv2","w":6900,"f":0.10},{"s":"gv2","w":7000,"f":0.20},{"s":"gv2","w":7050,"f":0.32},{"s":"gv2","w":7100,"f":0.38},{"s":"gv2","w":7150,"f":0.36},{"s":"gv2","w":7200,"f":0.30},{"s":"gv2","w":7250,"f":0.28},{"s":"gv2","w":7300,"f":0.28},{"s":"gv2","w":7350,"f":0.30},{"s":"gv2","w":7400,"f":0.22},{"s":"gv2","w":7450,"f":0.15},{"s":"gv2","w":7500,"f":0.10},{"s":"gv2","w":7600,"f":0.07},{"s":"gv2","w":7700,"f":0.06},{"s":"gv2","w":7800,"f":0.05},{"s":"gv2","w":7900,"f":0.03},{"s":"gv2","w":8000,"f":0.02},{"s":"gv2","w":8100,"f":0.02},{"s":"gv2","w":8200,"f":0.02},{"s":"gv2","w":8300,"f":0.03},{"s":"gv2","w":8400,"f":0.08},{"s":"gv2","w":8500,"f":0.18},{"s":"gv2","w":8550,"f":0.22},{"s":"gv2","w":8600,"f":0.24},{"s":"gv2","w":8650,"f":0.20},{"s":"gv2","w":8700,"f":0.14},{"s":"gv2","w":8800,"f":0.12},{"s":"gv2","w":8900,"f":0.13},{"s":"gv2","w":9000,"f":0.12},{"s":"gv2","w":9100,"f":0.10},{"s":"gv2","w":9200,"f":0.10},{"s":"gv2","w":9300,"f":0.13},{"s":"gv2","w":9400,"f":0.08},{"s":"gv2","w":9450,"f":0.02},{"s":"gv2","w":9500,"f":0.08}],
"p6":[
{"s":"B","w":4000,"f":0.15},{"s":"B","w":4100,"f":0.23},{"s":"B","w":4200,"f":0.43},{"s":"B","w":4250,"f":0.50},{"s":"B","w":4300,"f":0.55},{"s":"B","w":4350,"f":0.56},{"s":"B","w":4400,"f":0.54},{"s":"B","w":4450,"f":0.43},{"s":"B","w":4500,"f":0.40},{"s":"B","w":4550,"f":0.66},{"s":"B","w":4600,"f":1.12},{"s":"B","w":4650,"f":1.45},{"s":"B","w":4690,"f":1.51},{"s":"B","w":4730,"f":1.40},{"s":"B","w":4780,"f":1.02},{"s":"B","w":4830,"f":0.66},{"s":"B","w":4870,"f":0.46},{"s":"B","w":4920,"f":0.43},{"s":"B","w":4970,"f":0.51},{"s":"B","w":5000,"f":0.51},{"s":"B","w":5050,"f":0.43},{"s":"B","w":5100,"f":0.36},{"s":"B","w":5150,"f":0.56},{"s":"B","w":5200,"f":0.79},{"s":"B","w":5250,"f":0.88},{"s":"B","w":5300,"f":0.82},{"s":"B","w":5350,"f":0.66},{"s":"B","w":5400,"f":0.46},{"s":"B","w":5450,"f":0.31},{"s":"B","w":5500,"f":0.21},{"s":"B","w":5550,"f":0.14},{"s":"B","w":5600,"f":0.08},{"s":"B","w":5650,"f":0.04},{"s":"B","w":5700,"f":0.03},{"s":"B","w":5750,"f":0.08},{"s":"B","w":5800,"f":0.18},{"s":"B","w":5850,"f":0.23},{"s":"B","w":5900,"f":0.24},{"s":"B","w":5950,"f":0.20},{"s":"B","w":6000,"f":0.13},{"s":"B","w":6050,"f":0.09},{"s":"B","w":6100,"f":0.09},{"s":"B","w":6200,"f":0.09},{"s":"B","w":6300,"f":0.08},{"s":"B","w":6400,"f":0.10},{"s":"B","w":6500,"f":0.14},{"s":"B","w":6600,"f":0.14},{"s":"B","w":6700,"f":0.10},{"s":"B","w":6800,"f":0.10},{"s":"B","w":6900,"f":0.14},{"s":"B","w":7000,"f":0.21},{"s":"B","w":7050,"f":0.28},{"s":"B","w":7100,"f":0.31},{"s":"B","w":7150,"f":0.29},{"s":"B","w":7200,"f":0.24},{"s":"B","w":7250,"f":0.20},{"s":"B","w":7300,"f":0.20},{"s":"B","w":7350,"f":0.19},{"s":"B","w":7400,"f":0.16},{"s":"B","w":7450,"f":0.11},{"s":"B","w":7500,"f":0.08},{"s":"B","w":7550,"f":0.05},{"s":"B","w":7600,"f":0.05},{"s":"B","w":7700,"f":0.06},{"s":"B","w":7800,"f":0.06},{"s":"B","w":7900,"f":0.05},{"s":"B","w":8000,"f":0.04},{"s":"B","w":8100,"f":0.03},{"s":"B","w":8200,"f":0.03},{"s":"B","w":8300,"f":0.03},{"s":"B","w":8400,"f":0.05},{"s":"B","w":8500,"f":0.08},{"s":"B","w":8600,"f":0.10},{"s":"B","w":8700,"f":0.09},{"s":"B","w":8800,"f":0.09},{"s":"B","w":8900,"f":0.10},{"s":"B","w":9000,"f":0.09},{"s":"B","w":9100,"f":0.09},{"s":"B","w":9200,"f":0.10},{"s":"B","w":9250,"f":0.18},{"s":"B","w":9300,"f":0.24},{"s":"B","w":9350,"f":0.25},{"s":"B","w":9400,"f":0.19},{"s":"B","w":9450,"f":0.16},{"s":"B","w":9500,"f":0.15},
{"s":"oh","w":4000,"f":0.25},{"s":"oh","w":4020,"f":0.05},{"s":"oh","w":4040,"f":0.50},{"s":"oh","w":4060,"f":0.10},{"s":"oh","w":4080,"f":0.35},{"s":"oh","w":4100,"f":0.0},{"s":"oh","w":4120,"f":0.45},{"s":"oh","w":4150,"f":0.20},{"s":"oh","w":4180,"f":0.55},{"s":"oh","w":4200,"f":0.30},{"s":"oh","w":4230,"f":0.60},{"s":"oh","w":4260,"f":0.45},{"s":"oh","w":4280,"f":0.75},{"s":"oh","w":4300,"f":0.40},{"s":"oh","w":4330,"f":0.65},{"s":"oh","w":4360,"f":0.55},{"s":"oh","w":4400,"f":0.62},{"s":"oh","w":4420,"f":0.45},{"s":"oh","w":4440,"f":0.55},{"s":"oh","w":4460,"f":1.15},{"s":"oh","w":4470,"f":0.45},{"s":"oh","w":4500,"f":0.40},{"s":"oh","w":4530,"f":0.70},{"s":"oh","w":4560,"f":0.95},{"s":"oh","w":4600,"f":1.20},{"s":"oh","w":4640,"f":1.40},{"s":"oh","w":4670,"f":1.50},{"s":"oh","w":4690,"f":1.55},{"s":"oh","w":4710,"f":1.40},{"s":"oh","w":4750,"f":1.20},{"s":"oh","w":4800,"f":0.85},{"s":"oh","w":4840,"f":0.55},{"s":"oh","w":4870,"f":0.45},{"s":"oh","w":4900,"f":0.50},{"s":"oh","w":4950,"f":0.55},{"s":"oh","w":4990,"f":0.60},{"s":"oh","w":5020,"f":0.55},{"s":"oh","w":5050,"f":0.45},{"s":"oh","w":5080,"f":0.40},{"s":"oh","w":5110,"f":0.45},{"s":"oh","w":5150,"f":0.62},{"s":"oh","w":5200,"f":0.80},{"s":"oh","w":5240,"f":0.87},{"s":"oh","w":5280,"f":0.80},{"s":"oh","w":5320,"f":0.65},{"s":"oh","w":5370,"f":0.45},{"s":"oh","w":5420,"f":0.30},{"s":"oh","w":5470,"f":0.22},{"s":"oh","w":5520,"f":0.15},{"s":"oh","w":5570,"f":0.10},{"s":"oh","w":5620,"f":0.07},{"s":"oh","w":5670,"f":0.05},{"s":"oh","w":5720,"f":0.04},{"s":"oh","w":5770,"f":0.06},{"s":"oh","w":5820,"f":0.15},{"s":"oh","w":5870,"f":0.20},{"s":"oh","w":5910,"f":0.20},{"s":"oh","w":5950,"f":0.17},{"s":"oh","w":6000,"f":0.12},{"s":"oh","w":6050,"f":0.09},{"s":"oh","w":6100,"f":0.08},{"s":"oh","w":6200,"f":0.08},{"s":"oh","w":6300,"f":0.06},{"s":"oh","w":6400,"f":0.10},{"s":"oh","w":6500,"f":0.14},{"s":"oh","w":6550,"f":0.15},{"s":"oh","w":6580,"f":0.30},{"s":"oh","w":6590,"f":0.12},{"s":"oh","w":6650,"f":0.12},{"s":"oh","w":6700,"f":0.08},{"s":"oh","w":6730,"f":0.25},{"s":"oh","w":6740,"f":0.06},{"s":"oh","w":6800,"f":0.07},{"s":"oh","w":6900,"f":0.09},{"s":"oh","w":7000,"f":0.17},{"s":"oh","w":7050,"f":0.27},{"s":"oh","w":7100,"f":0.33},{"s":"oh","w":7130,"f":0.38},{"s":"oh","w":7170,"f":0.32},{"s":"oh","w":7200,"f":0.27},{"s":"oh","w":7250,"f":0.20},{"s":"oh","w":7300,"f":0.19},{"s":"oh","w":7350,"f":0.21},{"s":"oh","w":7400,"f":0.17},{"s":"oh","w":7450,"f":0.12},{"s":"oh","w":7500,"f":0.09},{"s":"oh","w":7600,"f":0.07},{"s":"oh","w":7700,"f":0.06},{"s":"oh","w":7800,"f":0.05},{"s":"oh","w":7900,"f":0.05},{"s":"oh","w":7950,"f":0.01},{"s":"oh","w":8000,"f":0.04},{"s":"oh","w":8100,"f":0.03},{"s":"oh","w":8200,"f":0.03},{"s":"oh","w":8300,"f":0.04},{"s":"oh","w":8400,"f":0.06},{"s":"oh","w":8450,"f":0.10},{"s":"oh","w":8500,"f":0.14},{"s":"oh","w":8550,"f":0.17},{"s":"oh","w":8600,"f":0.13},{"s":"oh","w":8650,"f":0.10},{"s":"oh","w":8700,"f":0.09},{"s":"oh","w":8800,"f":0.10},{"s":"oh","w":8900,"f":0.11},{"s":"oh","w":9000,"f":0.10},{"s":"oh","w":9100,"f":0.09},{"s":"oh","w":9200,"f":0.11},{"s":"oh","w":9250,"f":0.15},{"s":"oh","w":9300,"f":0.20},{"s":"oh","w":9350,"f":0.20},{"s":"oh","w":9400,"f":0.17},{"s":"oh","w":9450,"f":0.13},{"s":"oh","w":9480,"f":0.06},{"s":"oh","w":9500,"f":0.14}],
"p7":[
{"s":"B","w":4000,"f":0.46},{"s":"B","w":4100,"f":0.68},{"s":"B","w":4200,"f":1.29},{"s":"B","w":4250,"f":1.49},{"s":"B","w":4300,"f":1.63},{"s":"B","w":4350,"f":1.67},{"s":"B","w":4400,"f":1.60},{"s":"B","w":4450,"f":1.29},{"s":"B","w":4500,"f":1.19},{"s":"B","w":4550,"f":1.98},{"s":"B","w":4600,"f":3.34},{"s":"B","w":4650,"f":4.33},{"s":"B","w":4690,"f":4.51},{"s":"B","w":4730,"f":4.18},{"s":"B","w":4780,"f":3.04},{"s":"B","w":4830,"f":1.98},{"s":"B","w":4870,"f":1.37},{"s":"B","w":4920,"f":1.29},{"s":"B","w":4970,"f":1.52},{"s":"B","w":5000,"f":1.52},{"s":"B","w":5050,"f":1.29},{"s":"B","w":5100,"f":1.06},{"s":"B","w":5150,"f":1.67},{"s":"B","w":5200,"f":2.36},{"s":"B","w":5250,"f":2.61},{"s":"B","w":5300,"f":2.43},{"s":"B","w":5350,"f":1.98},{"s":"B","w":5400,"f":1.37},{"s":"B","w":5450,"f":0.91},{"s":"B","w":5500,"f":0.64},{"s":"B","w":5550,"f":0.43},{"s":"B","w":5600,"f":0.23},{"s":"B","w":5650,"f":0.11},{"s":"B","w":5700,"f":0.08},{"s":"B","w":5750,"f":0.23},{"s":"B","w":5800,"f":0.53},{"s":"B","w":5850,"f":0.68},{"s":"B","w":5900,"f":0.71},{"s":"B","w":5950,"f":0.61},{"s":"B","w":6000,"f":0.38},{"s":"B","w":6050,"f":0.27},{"s":"B","w":6100,"f":0.26},{"s":"B","w":6200,"f":0.26},{"s":"B","w":6300,"f":0.23},{"s":"B","w":6400,"f":0.30},{"s":"B","w":6500,"f":0.43},{"s":"B","w":6600,"f":0.43},{"s":"B","w":6700,"f":0.30},{"s":"B","w":6800,"f":0.30},{"s":"B","w":6900,"f":0.43},{"s":"B","w":7000,"f":0.64},{"s":"B","w":7050,"f":0.84},{"s":"B","w":7100,"f":0.91},{"s":"B","w":7150,"f":0.87},{"s":"B","w":7200,"f":0.73},{"s":"B","w":7250,"f":0.66},{"s":"B","w":7300,"f":0.70},{"s":"B","w":7350,"f":0.70},{"s":"B","w":7400,"f":0.55},{"s":"B","w":7450,"f":0.36},{"s":"B","w":7500,"f":0.23},{"s":"B","w":7550,"f":0.15},{"s":"B","w":7600,"f":0.15},{"s":"B","w":7700,"f":0.18},{"s":"B","w":7800,"f":0.18},{"s":"B","w":7900,"f":0.15},{"s":"B","w":8000,"f":0.11},{"s":"B","w":8100,"f":0.08},{"s":"B","w":8200,"f":0.08},{"s":"B","w":8300,"f":0.09},{"s":"B","w":8400,"f":0.18},{"s":"B","w":8500,"f":0.33},{"s":"B","w":8600,"f":0.36},{"s":"B","w":8700,"f":0.26},{"s":"B","w":8800,"f":0.27},{"s":"B","w":8900,"f":0.30},{"s":"B","w":9000,"f":0.27},{"s":"B","w":9100,"f":0.26},{"s":"B","w":9200,"f":0.30},{"s":"B","w":9250,"f":0.53},{"s":"B","w":9300,"f":0.73},{"s":"B","w":9350,"f":0.76},{"s":"B","w":9400,"f":0.58},{"s":"B","w":9450,"f":0.50},{"s":"B","w":9500,"f":0.46},
{"s":"O","w":4000,"f":0.34},{"s":"O","w":4050,"f":0.27},{"s":"O","w":4100,"f":0.32},{"s":"O","w":4200,"f":0.59},{"s":"O","w":4250,"f":0.71},{"s":"O","w":4300,"f":0.75},{"s":"O","w":4350,"f":0.81},{"s":"O","w":4400,"f":0.78},{"s":"O","w":4450,"f":0.62},{"s":"O","w":4500,"f":0.55},{"s":"O","w":4550,"f":0.87},{"s":"O","w":4600,"f":1.37},{"s":"O","w":4650,"f":1.76},{"s":"O","w":4690,"f":1.85},{"s":"O","w":4730,"f":1.74},{"s":"O","w":4780,"f":1.33},{"s":"O","w":4830,"f":0.89},{"s":"O","w":4870,"f":0.69},{"s":"O","w":4920,"f":0.66},{"s":"O","w":4970,"f":0.71},{"s":"O","w":5000,"f":0.69},{"s":"O","w":5050,"f":0.59},{"s":"O","w":5100,"f":0.50},{"s":"O","w":5150,"f":0.71},{"s":"O","w":5200,"f":0.96},{"s":"O","w":5250,"f":1.03},{"s":"O","w":5300,"f":0.98},{"s":"O","w":5350,"f":0.82},{"s":"O","w":5400,"f":0.57},{"s":"O","w":5450,"f":0.43},{"s":"O","w":5500,"f":0.34},{"s":"O","w":5550,"f":0.25},{"s":"O","w":5600,"f":0.16},{"s":"O","w":5650,"f":0.10},{"s":"O","w":5700,"f":0.07},{"s":"O","w":5750,"f":0.08},{"s":"O","w":5800,"f":0.11},{"s":"O","w":5850,"f":0.14},{"s":"O","w":5900,"f":0.15},{"s":"O","w":5950,"f":0.13},{"s":"O","w":6000,"f":0.09},{"s":"O","w":6100,"f":0.08},{"s":"O","w":6200,"f":0.08},{"s":"O","w":6300,"f":0.09},{"s":"O","w":6400,"f":0.14},{"s":"O","w":6500,"f":0.19},{"s":"O","w":6600,"f":0.18},{"s":"O","w":6700,"f":0.14},{"s":"O","w":6800,"f":0.13},{"s":"O","w":6900,"f":0.18},{"s":"O","w":7000,"f":0.34},{"s":"O","w":7050,"f":0.47},{"s":"O","w":7100,"f":0.51},{"s":"O","w":7150,"f":0.48},{"s":"O","w":7200,"f":0.39},{"s":"O","w":7250,"f":0.34},{"s":"O","w":7300,"f":0.41},{"s":"O","w":7350,"f":0.46},{"s":"O","w":7400,"f":0.39},{"s":"O","w":7450,"f":0.25},{"s":"O","w":7500,"f":0.16},{"s":"O","w":7600,"f":0.11},{"s":"O","w":7700,"f":0.10},{"s":"O","w":7800,"f":0.09},{"s":"O","w":7900,"f":0.07},{"s":"O","w":8000,"f":0.06},{"s":"O","w":8100,"f":0.06},{"s":"O","w":8200,"f":0.08},{"s":"O","w":8300,"f":0.09},{"s":"O","w":8400,"f":0.16},{"s":"O","w":8450,"f":0.23},{"s":"O","w":8500,"f":0.25},{"s":"O","w":8550,"f":0.27},{"s":"O","w":8600,"f":0.27},{"s":"O","w":8650,"f":0.23},{"s":"O","w":8700,"f":0.18},{"s":"O","w":8750,"f":0.21},{"s":"O","w":8800,"f":0.25},{"s":"O","w":8850,"f":0.27},{"s":"O","w":8900,"f":0.23},{"s":"O","w":9000,"f":0.21},{"s":"O","w":9100,"f":0.18},{"s":"O","w":9200,"f":0.21},{"s":"O","w":9250,"f":0.25},{"s":"O","w":9300,"f":0.33},{"s":"O","w":9350,"f":0.31},{"s":"O","w":9400,"f":0.25},{"s":"O","w":9450,"f":0.22},{"s":"O","w":9500,"f":0.19},
{"s":"yu1","w":4000,"f":1.0},{"s":"yu1","w":4020,"f":0.4},{"s":"yu1","w":4040,"f":1.4},{"s":"yu1","w":4060,"f":0.5},{"s":"yu1","w":4080,"f":1.2},{"s":"yu1","w":4100,"f":0.2},{"s":"yu1","w":4120,"f":0.9},{"s":"yu1","w":4150,"f":1.1},{"s":"yu1","w":4200,"f":1.4},{"s":"yu1","w":4230,"f":1.2},{"s":"yu1","w":4260,"f":1.6},{"s":"yu1","w":4300,"f":1.5},{"s":"yu1","w":4330,"f":1.8},{"s":"yu1","w":4360,"f":1.6},{"s":"yu1","w":4380,"f":2.0},{"s":"yu1","w":4400,"f":1.6},{"s":"yu1","w":4430,"f":1.3},{"s":"yu1","w":4460,"f":1.5},{"s":"yu1","w":4500,"f":1.0},{"s":"yu1","w":4520,"f":1.3},{"s":"yu1","w":4550,"f":2.0},{"s":"yu1","w":4600,"f":3.2},{"s":"yu1","w":4650,"f":4.2},{"s":"yu1","w":4680,"f":4.4},{"s":"yu1","w":4700,"f":4.3},{"s":"yu1","w":4730,"f":4.0},{"s":"yu1","w":4780,"f":3.0},{"s":"yu1","w":4830,"f":1.9},{"s":"yu1","w":4870,"f":1.4},{"s":"yu1","w":4920,"f":1.45},{"s":"yu1","w":4970,"f":1.75},{"s":"yu1","w":5000,"f":1.85},{"s":"yu1","w":5030,"f":1.60},{"s":"yu1","w":5070,"f":1.10},{"s":"yu1","w":5100,"f":1.05},{"s":"yu1","w":5150,"f":1.70},{"s":"yu1","w":5200,"f":2.25},{"s":"yu1","w":5250,"f":2.40},{"s":"yu1","w":5300,"f":2.30},{"s":"yu1","w":5350,"f":1.90},{"s":"yu1","w":5400,"f":1.30},{"s":"yu1","w":5450,"f":0.90},{"s":"yu1","w":5500,"f":0.70},{"s":"yu1","w":5550,"f":0.50},{"s":"yu1","w":5600,"f":0.30},{"s":"yu1","w":5650,"f":0.18},{"s":"yu1","w":5700,"f":0.12},{"s":"yu1","w":5750,"f":0.25},{"s":"yu1","w":5800,"f":0.60},{"s":"yu1","w":5850,"f":0.85},{"s":"yu1","w":5880,"f":0.92},{"s":"yu1","w":5920,"f":0.80},{"s":"yu1","w":5950,"f":0.62},{"s":"yu1","w":6000,"f":0.40},{"s":"yu1","w":6050,"f":0.30},{"s":"yu1","w":6100,"f":0.32},{"s":"yu1","w":6150,"f":0.38},{"s":"yu1","w":6200,"f":0.35},{"s":"yu1","w":6300,"f":0.20},{"s":"yu1","w":6400,"f":0.30},{"s":"yu1","w":6450,"f":0.40},{"s":"yu1","w":6500,"f":0.45},{"s":"yu1","w":6550,"f":0.45},{"s":"yu1","w":6600,"f":0.40},{"s":"yu1","w":6700,"f":0.30},{"s":"yu1","w":6800,"f":0.30},{"s":"yu1","w":6900,"f":0.35},{"s":"yu1","w":7000,"f":0.55},{"s":"yu1","w":7050,"f":0.72},{"s":"yu1","w":7100,"f":0.82},{"s":"yu1","w":7150,"f":0.75},{"s":"yu1","w":7200,"f":0.55},{"s":"yu1","w":7250,"f":0.45},{"s":"yu1","w":7300,"f":0.48},{"s":"yu1","w":7350,"f":0.50},{"s":"yu1","w":7400,"f":0.40},{"s":"yu1","w":7450,"f":0.28},{"s":"yu1","w":7500,"f":0.18},{"s":"yu1","w":7600,"f":0.12},{"s":"yu1","w":7700,"f":0.14},{"s":"yu1","w":7800,"f":0.15},{"s":"yu1","w":7900,"f":0.12},{"s":"yu1","w":8000,"f":0.08},{"s":"yu1","w":8100,"f":0.05},{"s":"yu1","w":8200,"f":0.05},{"s":"yu1","w":8300,"f":0.08},{"s":"yu1","w":8400,"f":0.12},{"s":"yu1","w":8500,"f":0.20},{"s":"yu1","w":8550,"f":0.25},{"s":"yu1","w":8600,"f":0.24},{"s":"yu1","w":8650,"f":0.18},{"s":"yu1","w":8700,"f":0.16},{"s":"yu1","w":8800,"f":0.18},{"s":"yu1","w":8900,"f":0.20},{"s":"yu1","w":9000,"f":0.20},{"s":"yu1","w":9100,"f":0.20},{"s":"yu1","w":9200,"f":0.25},{"s":"yu1","w":9250,"f":0.38},{"s":"yu1","w":9300,"f":0.50},{"s":"yu1","w":9350,"f":0.48},{"s":"yu1","w":9400,"f":0.40},{"s":"yu1","w":9450,"f":0.35},{"s":"yu1","w":9500,"f":0.32},
{"s":"yu2","w":4500,"f":0.55},{"s":"yu2","w":4550,"f":0.85},{"s":"yu2","w":4600,"f":1.30},{"s":"yu2","w":4650,"f":1.60},{"s":"yu2","w":4690,"f":1.65},{"s":"yu2","w":4730,"f":1.50},{"s":"yu2","w":4780,"f":1.15},{"s":"yu2","w":4830,"f":0.75},{"s":"yu2","w":4870,"f":0.60},{"s":"yu2","w":4920,"f":0.58},{"s":"yu2","w":4970,"f":0.62},{"s":"yu2","w":5000,"f":0.62},{"s":"yu2","w":5020,"f":0.75},{"s":"yu2","w":5030,"f":0.55},{"s":"yu2","w":5050,"f":0.48},{"s":"yu2","w":5100,"f":0.42},{"s":"yu2","w":5150,"f":0.70},{"s":"yu2","w":5200,"f":0.95},{"s":"yu2","w":5250,"f":1.00},{"s":"yu2","w":5300,"f":0.95},{"s":"yu2","w":5350,"f":0.78},{"s":"yu2","w":5400,"f":0.52},{"s":"yu2","w":5450,"f":0.38},{"s":"yu2","w":5500,"f":0.30},{"s":"yu2","w":5550,"f":0.22},{"s":"yu2","w":5600,"f":0.15},{"s":"yu2","w":5650,"f":0.10},{"s":"yu2","w":5700,"f":0.07},{"s":"yu2","w":5750,"f":0.12},{"s":"yu2","w":5800,"f":0.25},{"s":"yu2","w":5850,"f":0.32},{"s":"yu2","w":5900,"f":0.35},{"s":"yu2","w":5950,"f":0.30},{"s":"yu2","w":6000,"f":0.20},{"s":"yu2","w":6100,"f":0.15},{"s":"yu2","w":6200,"f":0.16},{"s":"yu2","w":6300,"f":0.13},{"s":"yu2","w":6400,"f":0.18},{"s":"yu2","w":6500,"f":0.25},{"s":"yu2","w":6560,"f":0.28},{"s":"yu2","w":6570,"f":1.15},{"s":"yu2","w":6580,"f":0.30},{"s":"yu2","w":6600,"f":0.30},{"s":"yu2","w":6700,"f":0.20},{"s":"yu2","w":6800,"f":0.18},{"s":"yu2","w":6900,"f":0.25},{"s":"yu2","w":7000,"f":0.35},{"s":"yu2","w":7050,"f":0.42},{"s":"yu2","w":7100,"f":0.45},{"s":"yu2","w":7150,"f":0.42},{"s":"yu2","w":7200,"f":0.35},{"s":"yu2","w":7250,"f":0.30},{"s":"yu2","w":7300,"f":0.32},{"s":"yu2","w":7350,"f":0.33},{"s":"yu2","w":7400,"f":0.26},{"s":"yu2","w":7450,"f":0.18},{"s":"yu2","w":7500,"f":0.12},{"s":"yu2","w":7600,"f":0.09},{"s":"yu2","w":7700,"f":0.08},{"s":"yu2","w":7800,"f":0.08},{"s":"yu2","w":7900,"f":0.06},{"s":"yu2","w":8000,"f":0.04},{"s":"yu2","w":8100,"f":0.03},{"s":"yu2","w":8200,"f":0.03},{"s":"yu2","w":8300,"f":0.05},{"s":"yu2","w":8400,"f":0.10},{"s":"yu2","w":8500,"f":0.18},{"s":"yu2","w":8550,"f":0.22},{"s":"yu2","w":8600,"f":0.20},{"s":"yu2","w":8700,"f":0.15},{"s":"yu2","w":8800,"f":0.15},{"s":"yu2","w":8900,"f":0.16},{"s":"yu2","w":9000,"f":0.15},
{"s":"yu3","w":4000,"f":0.30},{"s":"yu3","w":4020,"f":0.15},{"s":"yu3","w":4040,"f":0.30},{"s":"yu3","w":4060,"f":0.05},{"s":"yu3","w":4080,"f":0.20},{"s":"yu3","w":4100,"f":0.10},{"s":"yu3","w":4150,"f":0.30},{"s":"yu3","w":4200,"f":0.55},{"s":"yu3","w":4250,"f":0.68},{"s":"yu3","w":4300,"f":0.72},{"s":"yu3","w":4350,"f":0.78},{"s":"yu3","w":4400,"f":0.75},{"s":"yu3","w":4450,"f":0.60},{"s":"yu3","w":4500,"f":0.52},{"s":"yu3","w":4550,"f":0.85},{"s":"yu3","w":4600,"f":1.35},{"s":"yu3","w":4650,"f":1.75},{"s":"yu3","w":4690,"f":1.88},{"s":"yu3","w":4730,"f":1.75},{"s":"yu3","w":4780,"f":1.30},{"s":"yu3","w":4830,"f":0.85},{"s":"yu3","w":4870,"f":0.68},{"s":"yu3","w":4920,"f":0.66},{"s":"yu3","w":4970,"f":0.72},{"s":"yu3","w":5000,"f":0.70},{"s":"yu3","w":5050,"f":0.58},{"s":"yu3","w":5100,"f":0.48},{"s":"yu3","w":5150,"f":0.72},{"s":"yu3","w":5200,"f":0.97},{"s":"yu3","w":5250,"f":1.02},{"s":"yu3","w":5300,"f":0.97},{"s":"yu3","w":5350,"f":0.80},{"s":"yu3","w":5400,"f":0.55},{"s":"yu3","w":5450,"f":0.40},{"s":"yu3","w":5500,"f":0.30},{"s":"yu3","w":5550,"f":0.22},{"s":"yu3","w":5600,"f":0.14},{"s":"yu3","w":5650,"f":0.09},{"s":"yu3","w":5700,"f":0.06},{"s":"yu3","w":5750,"f":0.10},{"s":"yu3","w":5800,"f":0.16},{"s":"yu3","w":5850,"f":0.18},{"s":"yu3","w":5900,"f":0.18},{"s":"yu3","w":5950,"f":0.15},{"s":"yu3","w":6000,"f":0.11},{"s":"yu3","w":6100,"f":0.09},{"s":"yu3","w":6200,"f":0.10},{"s":"yu3","w":6300,"f":0.09},{"s":"yu3","w":6400,"f":0.12},{"s":"yu3","w":6500,"f":0.16},{"s":"yu3","w":6600,"f":0.15},{"s":"yu3","w":6700,"f":0.12},{"s":"yu3","w":6800,"f":0.12},{"s":"yu3","w":6900,"f":0.17},{"s":"yu3","w":7000,"f":0.28},{"s":"yu3","w":7050,"f":0.36},{"s":"yu3","w":7100,"f":0.40},{"s":"yu3","w":7150,"f":0.37},{"s":"yu3","w":7200,"f":0.30},{"s":"yu3","w":7250,"f":0.26},{"s":"yu3","w":7300,"f":0.28},{"s":"yu3","w":7350,"f":0.28},{"s":"yu3","w":7400,"f":0.22},{"s":"yu3","w":7450,"f":0.14},{"s":"yu3","w":7500,"f":0.09},{"s":"yu3","w":7600,"f":0.06},{"s":"yu3","w":7700,"f":0.06},{"s":"yu3","w":7800,"f":0.05},{"s":"yu3","w":7900,"f":0.04},{"s":"yu3","w":8000,"f":0.03},{"s":"yu3","w":8100,"f":0.03},{"s":"yu3","w":8200,"f":0.03},{"s":"yu3","w":8300,"f":0.04},{"s":"yu3","w":8400,"f":0.08},{"s":"yu3","w":8500,"f":0.15},{"s":"yu3","w":8550,"f":0.18},{"s":"yu3","w":8600,"f":0.18},{"s":"yu3","w":8700,"f":0.13},{"s":"yu3","w":8800,"f":0.12},{"s":"yu3","w":8900,"f":0.12},{"s":"yu3","w":9000,"f":0.11},{"s":"yu3","w":9100,"f":0.10},{"s":"yu3","w":9200,"f":0.10},{"s":"yu3","w":9300,"f":0.13},{"s":"yu3","w":9400,"f":0.08},{"s":"yu3","w":9500,"f":0.06}]
},
"vconcat":[
{"hconcat":[
{"width":550,"height":267,"title":"1e−16",
"encoding":{"x":{"field":"w","type":"quantitative","scale":{"domain":[4000,9500],"nice":false,"zero":false},"axis":{"values":[4000,5000,6000,7000,8000,9000],"format":"d","title":"Rest Wavelength [Å]"}},"y":{"field":"f","type":"quantitative","scale":{"domain":[0,1],"nice":false},"axis":{"values":[0,0.2,0.4,0.6,0.8,1.0],"format":".1f","title":"Flux Density [erg s⁻¹ cm⁻² Å⁻¹]"}}},
"layer":[
{"data":{"values":[{"w":4701,"f":0,"t":0.98},{"w":5890,"f":0,"t":0.98},{"w":7155,"f":0,"t":1},{"w":7378,"f":0,"t":1},{"w":8498,"f":0,"t":1},{"w":8542,"f":0,"t":1},{"w":8662,"f":0,"t":1}]},"mark":{"type":"rule","color":"#999999","strokeDash":[1.5,1.5],"strokeWidth":1},"encoding":{"y2":{"field":"t"}}},
{"data":{"values":[{"w":4500,"w2":5990,"f":0.98}]},"mark":{"type":"rule","color":"#777777","strokeDash":[4,2.5],"strokeWidth":1},"encoding":{"x2":{"field":"w2"}}},
{"data":{"name":"p1"},"transform":[{"filter":{"field":"s","oneOf":["B","O","G","V"]}},{"lookup":"s","from":{"data":{"name":"names"},"key":"s","fields":["n"]}}],"mark":{"type":"line","clip":true},"encoding":{"color":{"field":"n","type":"ordinal","title":null,"scale":{"type":"ordinal","range":["#006400","#9400d3","#000000"]}},"strokeWidth":{"field":"n","type":"ordinal","legend":null,"scale":{"type":"ordinal","range":[6,2.5,1]}},"opacity":{"field":"n","type":"ordinal","legend":null,"scale":{"type":"ordinal","range":[0.5,0.5,1]}}}},
{"data":{"name":"p1"},"transform":[{"filter":{"not":{"field":"s","oneOf":["B","O","G","V"]}}},{"lookup":"s","from":{"data":{"name":"names"},"key":"s","fields":["n"]}}],"mark":{"type":"line","clip":true},"encoding":{"color":{"field":"n","type":"ordinal","title":null},"strokeWidth":{"field":"n","type":"ordinal","legend":null},"opacity":{"field":"n","type":"ordinal","legend":null}}},
{"data":{"values":[{"w":4725,"f":0.936,"t":"[FeIII]"},{"w":5915,"f":0.464,"t":"[CoIII]"},{"w":7400,"f":0.464,"t":"[NiII]"},{"w":8690,"f":0.464,"t":"CaII"}]},"mark":{"type":"text","align":"left","baseline":"middle"},"encoding":{"text":{"field":"t"}}},
{"data":{"values":[{"w":7135,"f":0.464,"t":"[FeII]"}]},"mark":{"type":"text","align":"right","baseline":"middle"},"encoding":{"text":{"field":"t"}}}
]},
{"width":562,"height":267,"title":"1e−17",
"encoding":{"x":{"field":"w","type":"quantitative","scale":{"domain":[4000,9500],"nice":false,"zero":false},"axis":{"values":[4000,5000,6000,7000,8000,9000],"format":"d","title":"Rest Wavelength [Å]"}},"y":{"field":"f","type":"quantitative","scale":{"domain":[0,9],"nice":false},"axis":{"values":[0,1,2,3,4,5,6,7,8,9],"format":"d","title":"Flux Density [erg s⁻¹ cm⁻² Å⁻¹]"}}},
"layer":[
{"data":{"values":[{"w":4701,"f":0,"t":8.82},{"w":5220,"f":0,"t":8.82},{"w":5270,"f":0,"t":8.82},{"w":5890,"f":0,"t":8.82},{"w":7155,"f":0,"t":9},{"w":7378,"f":0,"t":9},{"w":8498,"f":0,"t":9},{"w":8542,"f":0,"t":9},{"w":8662,"f":0,"t":9}]},"mark":{"type":"rule","color":"#999999","strokeDash":[1.5,1.5],"strokeWidth":1},"encoding":{"y2":{"field":"t"}}},
{"data":{"values":[{"w":4500,"w2":5990,"f":8.82}]},"mark":{"type":"rule","color":"#777777","strokeDash":[4,2.5],"strokeWidth":1},"encoding":{"x2":{"field":"w2"}}},
{"data":{"name":"p2"},"transform":[{"filter":{"field":"s","oneOf":["B","O","G","V"]}},{"lookup":"s","from":{"data":{"name":"names"},"key":"s","fields":["n"]}}],"mark":{"type":"line","clip":true},"encoding":{"color":{"field":"n","type":"ordinal","title":null,"scale":{"type":"ordinal","range":["#006400","#000000"]}},"strokeWidth":{"field":"n","type":"ordinal","legend":null,"scale":{"type":"ordinal","range":[8,1]}},"opacity":{"field":"n","type":"ordinal","legend":null,"scale":{"type":"ordinal","range":[0.5,1]}}}},
{"data":{"name":"p2"},"transform":[{"filter":{"not":{"field":"s","oneOf":["B","O","G","V"]}}},{"lookup":"s","from":{"data":{"name":"names"},"key":"s","fields":["n"]}}],"mark":{"type":"line","clip":true},"encoding":{"color":{"field":"n","type":"ordinal","title":null},"strokeWidth":{"field":"n","type":"ordinal","legend":null},"opacity":{"field":"n","type":"ordinal","legend":null}}},
{"data":{"values":[{"w":4725,"f":8.43,"t":"[FeIII]"},{"w":5290,"f":5.06,"t":"[FeIII]"},{"w":5915,"f":4.2,"t":"[CoIII]"},{"w":7400,"f":4.2,"t":"[NiII]"},{"w":8690,"f":4.2,"t":"CaII"}]},"mark":{"type":"text","align":"left","baseline":"middle"},"encoding":{"text":{"field":"t"}}},
{"data":{"values":[{"w":5195,"f":5.06,"t":"[FeII]"},{"w":7135,"f":4.2,"t":"[FeII]"}]},"mark":{"type":"text","align":"right","baseline":"middle"},"encoding":{"text":{"field":"t"}}}
]}
],"spacing":15,"resolve":{"scale":{"color":"independent","strokeWidth":"independent","opacity":"independent"},"legend":{"color":"independent","strokeWidth":"independent","opacity":"independent"}}},
{"hconcat":[
{"width":550,"height":264,"title":"1e−16",
"encoding":{"x":{"field":"w","type":"quantitative","scale":{"domain":[4000,9500],"nice":false,"zero":false},"axis":{"values":[4000,5000,6000,7000,8000,9000],"format":"d","title":"Rest Wavelength [Å]"}},"y":{"field":"f","type":"quantitative","scale":{"domain":[0,3.1],"nice":false},"axis":{"values":[0,0.5,1,1.5,2,2.5,3],"format":".1f","title":"Flux Density [erg s⁻¹ cm⁻² Å⁻¹]"}}},
"layer":[
{"data":{"values":[{"w":4701,"f":0,"t":3.04},{"w":5890,"f":0,"t":3.04},{"w":7155,"f":0,"t":3.1},{"w":7378,"f":0,"t":3.1},{"w":8498,"f":0,"t":3.1},{"w":8542,"f":0,"t":3.1},{"w":8662,"f":0,"t":3.1}]},"mark":{"type":"rule","color":"#999999","strokeDash":[1.5,1.5],"strokeWidth":1},"encoding":{"y2":{"field":"t"}}},
{"data":{"values":[{"w":4500,"w2":5990,"f":3.04}]},"mark":{"type":"rule","color":"#777777","strokeDash":[4,2.5],"strokeWidth":1},"encoding":{"x2":{"field":"w2"}}},
{"data":{"name":"p3"},"transform":[{"filter":{"field":"s","oneOf":["B","O","G","V"]}},{"lookup":"s","from":{"data":{"name":"names"},"key":"s","fields":["n"]}}],"mark":{"type":"line","clip":true},"encoding":{"color":{"field":"n","type":"ordinal","title":null,"scale":{"type":"ordinal","range":["#1e90ff","#000000"]}},"strokeWidth":{"field":"n","type":"ordinal","legend":null,"scale":{"type":"ordinal","range":[6,1]}},"opacity":{"field":"n","type":"ordinal","legend":null,"scale":{"type":"ordinal","range":[0.5,1]}}}},
{"data":{"name":"p3"},"transform":[{"filter":{"not":{"field":"s","oneOf":["B","O","G","V"]}}},{"lookup":"s","from":{"data":{"name":"names"},"key":"s","fields":["n"]}}],"mark":{"type":"line","clip":true},"encoding":{"color":{"field":"n","type":"ordinal","title":null},"strokeWidth":{"field":"n","type":"ordinal","legend":null},"opacity":{"field":"n","type":"ordinal","legend":null}}},
{"data":{"values":[{"w":4725,"f":2.9,"t":"[FeIII]"},{"w":5915,"f":1.44,"t":"[CoIII]"},{"w":7400,"f":1.44,"t":"[NiII]"},{"w":8690,"f":1.44,"t":"CaII"}]},"mark":{"type":"text","align":"left","baseline":"middle"},"encoding":{"text":{"field":"t"}}},
{"data":{"values":[{"w":7135,"f":1.44,"t":"[FeII]"}]},"mark":{"type":"text","align":"right","baseline":"middle"},"encoding":{"text":{"field":"t"}}}
]},
{"width":545,"height":264,"title":"1e−16",
"encoding":{"x":{"field":"w","type":"quantitative","scale":{"domain":[4000,9500],"nice":false,"zero":false},"axis":{"values":[4000,5000,6000,7000,8000,9000],"format":"d","title":"Rest Wavelength [Å]"}},"y":{"field":"f","type":"quantitative","scale":{"domain":[0,1.9],"nice":false},"axis":{"values":[0,0.25,0.5,0.75,1,1.25,1.5,1.75],"format":".2f","title":"Flux Density [erg s⁻¹ cm⁻² Å⁻¹]"}}},
"layer":[
{"data":{"values":[{"w":4701,"f":0,"t":1.86},{"w":5890,"f":0,"t":1.86},{"w":7155,"f":0,"t":1.9},{"w":7378,"f":0,"t":1.9},{"w":8498,"f":0,"t":1.9},{"w":8542,"f":0,"t":1.9},{"w":8662,"f":0,"t":1.9}]},"mark":{"type":"rule","color":"#999999","strokeDash":[1.5,1.5],"strokeWidth":1},"encoding":{"y2":{"field":"t"}}},
{"data":{"values":[{"w":4500,"w2":5990,"f":1.86}]},"mark":{"type":"rule","color":"#777777","strokeDash":[4,2.5],"strokeWidth":1},"encoding":{"x2":{"field":"w2"}}},
{"data":{"name":"p4"},"transform":[{"filter":{"field":"s","oneOf":["B","O","G","V"]}},{"lookup":"s","from":{"data":{"name":"names"},"key":"s","fields":["n"]}}],"mark":{"type":"line","clip":true},"encoding":{"color":{"field":"n","type":"ordinal","title":null,"scale":{"type":"ordinal","range":["#1e90ff","#000000"]}},"strokeWidth":{"field":"n","type":"ordinal","legend":null,"scale":{"type":"ordinal","range":[6,1]}},"opacity":{"field":"n","type":"ordinal","legend":null,"scale":{"type":"ordinal","range":[0.5,1]}}}},
{"data":{"name":"p4"},"transform":[{"filter":{"not":{"field":"s","oneOf":["B","O","G","V"]}}},{"lookup":"s","from":{"data":{"name":"names"},"key":"s","fields":["n"]}}],"mark":{"type":"line","clip":true},"encoding":{"color":{"field":"n","type":"ordinal","title":null},"strokeWidth":{"field":"n","type":"ordinal","legend":null},"opacity":{"field":"n","type":"ordinal","legend":null}}},
{"data":{"values":[{"w":4725,"f":1.78,"t":"[FeIII]"},{"w":5915,"f":0.88,"t":"[CoIII]"},{"w":7400,"f":0.88,"t":"[NiII]"},{"w":8690,"f":0.88,"t":"CaII"}]},"mark":{"type":"text","align":"left","baseline":"middle"},"encoding":{"text":{"field":"t"}}},
{"data":{"values":[{"w":7135,"f":0.88,"t":"[FeII]"}]},"mark":{"type":"text","align":"right","baseline":"middle"},"encoding":{"text":{"field":"t"}}}
]}
],"spacing":15,"resolve":{"scale":{"color":"independent","strokeWidth":"independent","opacity":"independent"},"legend":{"color":"independent","strokeWidth":"independent","opacity":"independent"}}},
{"hconcat":[
{"width":550,"height":264,"title":"1e−16",
"encoding":{"x":{"field":"w","type":"quantitative","scale":{"domain":[4000,9500],"nice":false,"zero":false},"axis":{"values":[4000,5000,6000,7000,8000,9000],"format":"d","title":"Rest Wavelength [Å]"}},"y":{"field":"f","type":"quantitative","scale":{"domain":[0,4.5],"nice":false},"axis":{"values":[0,0.5,1,1.5,2,2.5,3,3.5,4,4.5],"format":".1f","title":"Flux Density [erg s⁻¹ cm⁻² Å⁻¹]"}}},
"layer":[
{"data":{"values":[{"w":4701,"f":0,"t":4.41},{"w":5890,"f":0,"t":4.41},{"w":7155,"f":0,"t":4.5},{"w":7378,"f":0,"t":4.5},{"w":8498,"f":0,"t":4.5},{"w":8542,"f":0,"t":4.5},{"w":8662,"f":0,"t":4.5}]},"mark":{"type":"rule","color":"#999999","strokeDash":[1.5,1.5],"strokeWidth":1},"encoding":{"y2":{"field":"t"}}},
{"data":{"values":[{"w":4500,"w2":5990,"f":4.41}]},"mark":{"type":"rule","color":"#777777","strokeDash":[4,2.5],"strokeWidth":1},"encoding":{"x2":{"field":"w2"}}},
{"data":{"name":"p5"},"transform":[{"filter":{"field":"s","oneOf":["B","O","G","V"]}},{"lookup":"s","from":{"data":{"name":"names"},"key":"s","fields":["n"]}}],"mark":{"type":"line","clip":true},"encoding":{"color":{"field":"n","type":"ordinal","title":null,"scale":{"type":"ordinal","range":["#1e90ff","#ff8c00","#006400","#000000","#b22222"]}},"strokeWidth":{"field":"n","type":"ordinal","legend":null,"scale":{"type":"ordinal","range":[6,6,6,1,1]}},"opacity":{"field":"n","type":"ordinal","legend":null,"scale":{"type":"ordinal","range":[0.5,0.5,0.5,1,1]}}}},
{"data":{"name":"p5"},"transform":[{"filter":{"not":{"field":"s","oneOf":["B","O","G","V"]}}},{"lookup":"s","from":{"data":{"name":"names"},"key":"s","fields":["n"]}}],"mark":{"type":"line","clip":true},"encoding":{"color":{"field":"n","type":"ordinal","title":null},"strokeWidth":{"field":"n","type":"ordinal","legend":null},"opacity":{"field":"n","type":"ordinal","legend":null}}},
{"data":{"values":[{"w":4725,"f":4.21,"t":"[FeIII]"},{"w":5915,"f":2.09,"t":"[CoIII]"},{"w":7400,"f":2.09,"t":"[NiII]"},{"w":8690,"f":2.09,"t":"CaII"}]},"mark":{"type":"text","align":"left","baseline":"middle"},"encoding":{"text":{"field":"t"}}},
{"data":{"values":[{"w":7135,"f":2.09,"t":"[FeII]"}]},"mark":{"type":"text","align":"right","baseline":"middle"},"encoding":{"text":{"field":"t"}}}
]},
{"width":550,"height":264,"title":"1e−16",
"encoding":{"x":{"field":"w","type":"quantitative","scale":{"domain":[4000,9500],"nice":false,"zero":false},"axis":{"values":[4000,5000,6000,7000,8000,9000],"format":"d","title":"Rest Wavelength [Å]"}},"y":{"field":"f","type":"quantitative","scale":{"domain":[0,1.7],"nice":false},"axis":{"values":[0,0.2,0.4,0.6,0.8,1,1.2,1.4,1.6],"format":".1f","title":"Flux Density [erg s⁻¹ cm⁻² Å⁻¹]"}}},
"layer":[
{"data":{"values":[{"w":4701,"f":0,"t":1.667},{"w":5890,"f":0,"t":1.667},{"w":7155,"f":0,"t":1.7},{"w":7378,"f":0,"t":1.7},{"w":8498,"f":0,"t":1.7},{"w":8542,"f":0,"t":1.7},{"w":8662,"f":0,"t":1.7}]},"mark":{"type":"rule","color":"#999999","strokeDash":[1.5,1.5],"strokeWidth":1},"encoding":{"y2":{"field":"t"}}},
{"data":{"values":[{"w":4500,"w2":5990,"f":1.667}]},"mark":{"type":"rule","color":"#777777","strokeDash":[4,2.5],"strokeWidth":1},"encoding":{"x2":{"field":"w2"}}},
{"data":{"name":"p6"},"transform":[{"filter":{"field":"s","oneOf":["B","O","G","V"]}},{"lookup":"s","from":{"data":{"name":"names"},"key":"s","fields":["n"]}}],"mark":{"type":"line","clip":true},"encoding":{"color":{"field":"n","type":"ordinal","title":null,"scale":{"type":"ordinal","range":["#1e90ff","#000000"]}},"strokeWidth":{"field":"n","type":"ordinal","legend":null,"scale":{"type":"ordinal","range":[6,1]}},"opacity":{"field":"n","type":"ordinal","legend":null,"scale":{"type":"ordinal","range":[0.5,1]}}}},
{"data":{"name":"p6"},"transform":[{"filter":{"not":{"field":"s","oneOf":["B","O","G","V"]}}},{"lookup":"s","from":{"data":{"name":"names"},"key":"s","fields":["n"]}}],"mark":{"type":"line","clip":true},"encoding":{"color":{"field":"n","type":"ordinal","title":null},"strokeWidth":{"field":"n","type":"ordinal","legend":null},"opacity":{"field":"n","type":"ordinal","legend":null}}},
{"data":{"values":[{"w":4725,"f":1.59,"t":"[FeIII]"},{"w":5915,"f":0.79,"t":"[CoIII]"},{"w":7400,"f":0.79,"t":"[NiII]"},{"w":8690,"f":0.79,"t":"CaII"}]},"mark":{"type":"text","align":"left","baseline":"middle"},"encoding":{"text":{"field":"t"}}},
{"data":{"values":[{"w":7135,"f":0.79,"t":"[FeII]"}]},"mark":{"type":"text","align":"right","baseline":"middle"},"encoding":{"text":{"field":"t"}}}
]}
],"spacing":15,"resolve":{"scale":{"color":"independent","strokeWidth":"independent","opacity":"independent"},"legend":{"color":"independent","strokeWidth":"independent","opacity":"independent"}}},
{"width":562,"height":270,"title":"1e−16",
"encoding":{"x":{"field":"w","type":"quantitative","scale":{"domain":[4000,9500],"nice":false,"zero":false},"axis":{"values":[4000,5000,6000,7000,8000,9000],"format":"d","title":"Rest Wavelength [Å]"}},"y":{"field":"f","type":"quantitative","scale":{"domain":[0,5],"nice":false},"axis":{"values":[0,1,2,3,4,5],"format":"d","title":"Flux Density [erg s⁻¹ cm⁻² Å⁻¹]"}}},
"layer":[
{"data":{"values":[{"w":4701,"f":0,"t":4.9},{"w":5890,"f":0,"t":4.9},{"w":7155,"f":0,"t":5},{"w":7378,"f":0,"t":5},{"w":8498,"f":0,"t":5},{"w":8542,"f":0,"t":5},{"w":8662,"f":0,"t":5}]},"mark":{"type":"rule","color":"#999999","strokeDash":[1.5,1.5],"strokeWidth":1},"encoding":{"y2":{"field":"t"}}},
{"data":{"values":[{"w":4500,"w2":5990,"f":4.9}]},"mark":{"type":"rule","color":"#777777","strokeDash":[4,2.5],"strokeWidth":1},"encoding":{"x2":{"field":"w2"}}},
{"data":{"name":"p7"},"transform":[{"filter":{"field":"s","oneOf":["B","O","G","V"]}},{"lookup":"s","from":{"data":{"name":"names"},"key":"s","fields":["n"]}}],"mark":{"type":"line","clip":true},"encoding":{"color":{"field":"n","type":"ordinal","title":null,"scale":{"type":"ordinal","range":["#1e90ff","#ff8c00","#000000","#808080","#b22222"]}},"strokeWidth":{"field":"n","type":"ordinal","legend":null,"scale":{"type":"ordinal","range":[6,6,1,1,1]}},"opacity":{"field":"n","type":"ordinal","legend":null,"scale":{"type":"ordinal","range":[0.5,0.5,1,1,1]}}}},
{"data":{"name":"p7"},"transform":[{"filter":{"not":{"field":"s","oneOf":["B","O","G","V"]}}},{"lookup":"s","from":{"data":{"name":"names"},"key":"s","fields":["n"]}}],"mark":{"type":"line","clip":true},"encoding":{"color":{"field":"n","type":"ordinal","title":null},"strokeWidth":{"field":"n","type":"ordinal","legend":null},"opacity":{"field":"n","type":"ordinal","legend":null}}},
{"data":{"values":[{"w":4725,"f":4.68,"t":"[FeIII]"},{"w":5915,"f":2.32,"t":"[CoIII]"},{"w":7400,"f":2.32,"t":"[NiII]"},{"w":8690,"f":2.32,"t":"CaII"}]},"mark":{"type":"text","align":"left","baseline":"middle"},"encoding":{"text":{"field":"t"}}},
{"data":{"values":[{"w":7135,"f":2.32,"t":"[FeII]"}]},"mark":{"type":"text","align":"right","baseline":"middle"},"encoding":{"text":{"field":"t"}}}
]}
],
"config":{
"font":"DejaVu Sans",
"view":{"stroke":"#222222","strokeWidth":1},
"axis":{"grid":false,"domain":false,"tickColor":"#000000","tickSize":4,"labelFontSize":13.5,"titleFontSize":13.5,"titleFontWeight":"normal","labelColor":"#000000","titleColor":"#000000","labelPadding":2,"labelFlush":false,"labelOverlap":false},
"axisX":{"titlePadding":3},
"axisY":{"titlePadding":1},
"legend":{"orient":"top-right","offset":7,"labelFontSize":13.5,"labelColor":"#000000","symbolType":"stroke","symbolSize":900,"symbolStrokeWidth":{"expr":"datum.value == 'SN 2011fe: 2013-04-08, 574 d' ? 2.5 : (datum.value < 'SN 2012' ? 5 : 1)"},"symbolOpacity":{"expr":"datum.value < 'SN 2012' ? 0.5 : 1"},"fillColor":"rgba(255,255,255,0.8)","strokeColor":"#cccccc","cornerRadius":3,"padding":4,"rowPadding":3,"labelOffset":13,"labelLimit":400},
"title":{"anchor":"start","fontSize":13.5,"fontWeight":"normal","offset":-2,"frame":"group","color":"#000000"},
"text":{"fontSize":13.5,"font":"DejaVu Sans","color":"#000000"},
"line":{"strokeJoin":"round"}
}
}
